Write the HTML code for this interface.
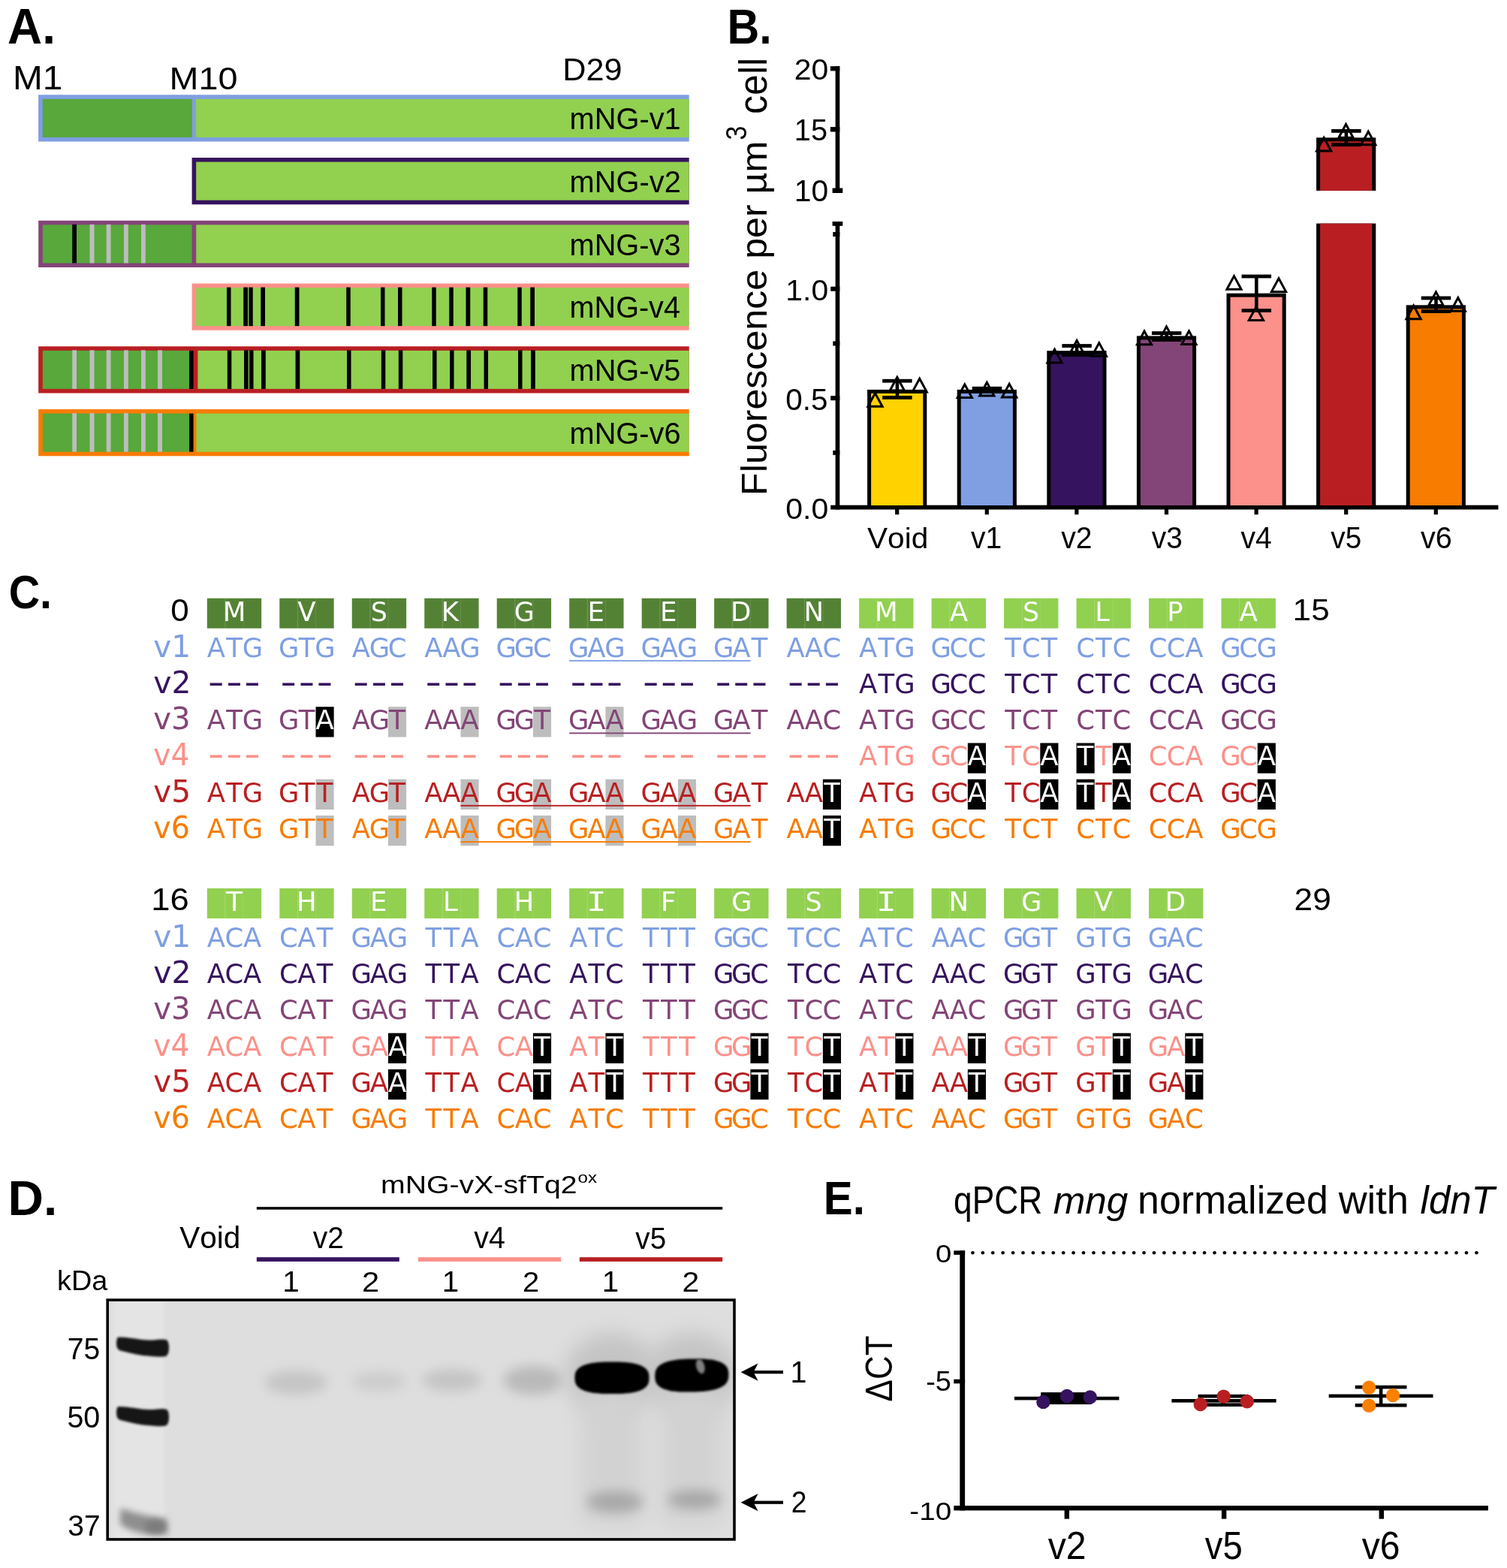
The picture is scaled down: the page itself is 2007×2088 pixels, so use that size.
<!DOCTYPE html>
<html><head><meta charset="utf-8"><title>Figure</title>
<style>
html,body{margin:0;padding:0;background:#fff;}
svg{display:block;}
text{font-kerning:none;}
</style></head>
<body>
<svg width="2007" height="2088" viewBox="0 0 2007 2088">
<rect width="2007" height="2088" fill="#fff"/>
<text x="10.11" y="57.90" font-family='"Liberation Sans", Arial, sans-serif' font-size="67.15" font-weight="bold" textLength="63.78" lengthAdjust="spacingAndGlyphs" fill="#000">A.</text>
<text x="16.98" y="119.20" font-family='"Liberation Sans", Arial, sans-serif' font-size="44.33" textLength="66.35" lengthAdjust="spacingAndGlyphs" fill="#000">M1</text>
<text x="225.46" y="118.78" font-family='"Liberation Sans", Arial, sans-serif' font-size="43.08" textLength="90.96" lengthAdjust="spacingAndGlyphs" fill="#000">M10</text>
<text x="749.20" y="106.58" font-family='"Liberation Sans", Arial, sans-serif' font-size="43.43" textLength="79.35" lengthAdjust="spacingAndGlyphs" fill="#000">D29</text>
<rect x="51.10" y="126.25" width="866.60" height="62.25" fill="#7F9FE2"/>
<rect x="56.70" y="131.85" width="199.30" height="51.05" fill="#58A83C"/>
<rect x="261.00" y="131.85" width="656.70" height="51.05" fill="#92D050"/>
<text x="758.56" y="172.16" font-family='"Liberation Sans", Arial, sans-serif' font-size="39.97" textLength="148.19" lengthAdjust="spacingAndGlyphs" fill="#000">mNG-v1</text>
<rect x="255.60" y="210.00" width="662.10" height="62.25" fill="#36135F"/>
<rect x="261.20" y="215.60" width="656.50" height="51.05" fill="#92D050"/>
<text x="758.56" y="255.91" font-family='"Liberation Sans", Arial, sans-serif' font-size="39.97" textLength="148.25" lengthAdjust="spacingAndGlyphs" fill="#000">mNG-v2</text>
<rect x="51.20" y="293.75" width="866.50" height="62.25" fill="#834577"/>
<rect x="56.80" y="299.35" width="198.70" height="51.05" fill="#58A83C"/>
<rect x="261.25" y="299.35" width="656.45" height="51.05" fill="#92D050"/>
<rect x="119.50" y="298.85" width="6.00" height="51.55" fill="#BDBDBD"/>
<rect x="141.75" y="298.85" width="5.75" height="51.55" fill="#BDBDBD"/>
<rect x="165.00" y="298.85" width="5.75" height="51.55" fill="#BDBDBD"/>
<rect x="188.00" y="298.85" width="5.75" height="51.55" fill="#BDBDBD"/>
<rect x="96.25" y="298.85" width="5.75" height="51.55" fill="#000"/>
<text x="758.56" y="339.66" font-family='"Liberation Sans", Arial, sans-serif' font-size="39.97" textLength="147.99" lengthAdjust="spacingAndGlyphs" fill="#000">mNG-v3</text>
<rect x="255.60" y="377.50" width="662.10" height="62.25" fill="#FB918A"/>
<rect x="261.20" y="383.10" width="656.50" height="51.05" fill="#92D050"/>
<rect x="302.00" y="382.60" width="5.50" height="51.55" fill="#000"/>
<rect x="324.25" y="382.60" width="5.75" height="51.55" fill="#000"/>
<rect x="331.25" y="382.60" width="5.50" height="51.55" fill="#000"/>
<rect x="347.25" y="382.60" width="5.75" height="51.55" fill="#000"/>
<rect x="392.75" y="382.60" width="5.75" height="51.55" fill="#000"/>
<rect x="461.25" y="382.60" width="5.50" height="51.55" fill="#000"/>
<rect x="507.00" y="382.60" width="5.50" height="51.55" fill="#000"/>
<rect x="530.00" y="382.60" width="5.50" height="51.55" fill="#000"/>
<rect x="575.25" y="382.60" width="5.50" height="51.55" fill="#000"/>
<rect x="598.25" y="382.60" width="5.50" height="51.55" fill="#000"/>
<rect x="620.50" y="382.60" width="5.75" height="51.55" fill="#000"/>
<rect x="643.75" y="382.60" width="5.50" height="51.55" fill="#000"/>
<rect x="689.25" y="382.60" width="5.50" height="51.55" fill="#000"/>
<rect x="706.25" y="382.60" width="5.75" height="51.55" fill="#000"/>
<text x="758.57" y="423.41" font-family='"Liberation Sans", Arial, sans-serif' font-size="39.97" textLength="147.39" lengthAdjust="spacingAndGlyphs" fill="#000">mNG-v4</text>
<rect x="51.20" y="461.25" width="866.50" height="62.25" fill="#B91F22"/>
<rect x="56.80" y="466.85" width="195.30" height="51.05" fill="#58A83C"/>
<rect x="252.10" y="466.85" width="5.50" height="51.05" fill="#000"/>
<rect x="263.40" y="466.85" width="654.30" height="51.05" fill="#92D050"/>
<rect x="96.25" y="466.35" width="5.75" height="51.55" fill="#BDBDBD"/>
<rect x="119.50" y="466.35" width="6.00" height="51.55" fill="#BDBDBD"/>
<rect x="141.75" y="466.35" width="5.75" height="51.55" fill="#BDBDBD"/>
<rect x="165.00" y="466.35" width="5.75" height="51.55" fill="#BDBDBD"/>
<rect x="188.00" y="466.35" width="5.75" height="51.55" fill="#BDBDBD"/>
<rect x="210.00" y="466.35" width="6.00" height="51.55" fill="#BDBDBD"/>
<rect x="302.80" y="466.35" width="5.50" height="51.55" fill="#000"/>
<rect x="325.05" y="466.35" width="5.75" height="51.55" fill="#000"/>
<rect x="332.05" y="466.35" width="5.50" height="51.55" fill="#000"/>
<rect x="348.05" y="466.35" width="5.75" height="51.55" fill="#000"/>
<rect x="393.55" y="466.35" width="5.75" height="51.55" fill="#000"/>
<rect x="462.05" y="466.35" width="5.50" height="51.55" fill="#000"/>
<rect x="507.80" y="466.35" width="5.50" height="51.55" fill="#000"/>
<rect x="530.80" y="466.35" width="5.50" height="51.55" fill="#000"/>
<rect x="576.05" y="466.35" width="5.50" height="51.55" fill="#000"/>
<rect x="599.05" y="466.35" width="5.50" height="51.55" fill="#000"/>
<rect x="621.30" y="466.35" width="5.75" height="51.55" fill="#000"/>
<rect x="644.55" y="466.35" width="5.50" height="51.55" fill="#000"/>
<rect x="690.05" y="466.35" width="5.50" height="51.55" fill="#000"/>
<rect x="707.05" y="466.35" width="5.75" height="51.55" fill="#000"/>
<text x="758.56" y="507.16" font-family='"Liberation Sans", Arial, sans-serif' font-size="39.97" textLength="147.91" lengthAdjust="spacingAndGlyphs" fill="#000">mNG-v5</text>
<rect x="51.20" y="545.00" width="866.50" height="62.25" fill="#F77C00"/>
<rect x="56.80" y="550.60" width="195.30" height="51.05" fill="#58A83C"/>
<rect x="252.10" y="550.60" width="5.50" height="51.05" fill="#000"/>
<rect x="261.40" y="550.60" width="656.30" height="51.05" fill="#92D050"/>
<rect x="96.25" y="550.10" width="5.75" height="51.55" fill="#BDBDBD"/>
<rect x="119.50" y="550.10" width="6.00" height="51.55" fill="#BDBDBD"/>
<rect x="141.75" y="550.10" width="5.75" height="51.55" fill="#BDBDBD"/>
<rect x="165.00" y="550.10" width="5.75" height="51.55" fill="#BDBDBD"/>
<rect x="188.00" y="550.10" width="5.75" height="51.55" fill="#BDBDBD"/>
<rect x="210.00" y="550.10" width="6.00" height="51.55" fill="#BDBDBD"/>
<text x="758.56" y="590.91" font-family='"Liberation Sans", Arial, sans-serif' font-size="39.97" textLength="147.99" lengthAdjust="spacingAndGlyphs" fill="#000">mNG-v6</text>
<text x="968.53" y="58.00" font-family='"Liberation Sans", Arial, sans-serif' font-size="64.32" font-weight="bold" textLength="59.30" lengthAdjust="spacingAndGlyphs" fill="#000">B.</text>
<rect x="1112.60" y="88.20" width="5.70" height="168.80" fill="#000"/>
<rect x="1105.90" y="88.20" width="12.40" height="6.20" fill="#000"/>
<rect x="1105.90" y="169.10" width="12.40" height="6.40" fill="#000"/>
<rect x="1108.60" y="250.50" width="13.70" height="6.50" fill="#000"/>
<rect x="1112.60" y="295.00" width="5.70" height="383.50" fill="#000"/>
<rect x="1108.60" y="295.00" width="13.70" height="5.80" fill="#000"/>
<rect x="1109.30" y="308.98" width="9.00" height="6.00" fill="#000"/>
<rect x="1106.20" y="381.70" width="12.10" height="6.00" fill="#000"/>
<rect x="1109.30" y="454.43" width="9.00" height="6.00" fill="#000"/>
<rect x="1106.20" y="527.15" width="12.10" height="6.00" fill="#000"/>
<rect x="1109.30" y="599.88" width="9.00" height="6.00" fill="#000"/>
<rect x="1106.20" y="672.70" width="889.20" height="5.80" fill="#000"/>
<rect x="1192.10" y="678.00" width="5.20" height="7.20" fill="#000"/>
<rect x="1311.70" y="678.00" width="5.20" height="7.20" fill="#000"/>
<rect x="1431.30" y="678.00" width="5.20" height="7.20" fill="#000"/>
<rect x="1550.90" y="678.00" width="5.20" height="7.20" fill="#000"/>
<rect x="1670.50" y="678.00" width="5.20" height="7.20" fill="#000"/>
<rect x="1790.10" y="678.00" width="5.20" height="7.20" fill="#000"/>
<rect x="1909.70" y="678.00" width="5.20" height="7.20" fill="#000"/>
<text x="1057.74" y="105.52" font-family='"Liberation Sans", Arial, sans-serif' font-size="39.41" textLength="45.45" lengthAdjust="spacingAndGlyphs" fill="#000">20</text>
<text x="1057.87" y="186.91" font-family='"Liberation Sans", Arial, sans-serif' font-size="39.84" textLength="44.31" lengthAdjust="spacingAndGlyphs" fill="#000">15</text>
<text x="1057.79" y="268.41" font-family='"Liberation Sans", Arial, sans-serif' font-size="40.11" textLength="45.40" lengthAdjust="spacingAndGlyphs" fill="#000">10</text>
<text x="1046.39" y="399.82" font-family='"Liberation Sans", Arial, sans-serif' font-size="39.12" textLength="56.81" lengthAdjust="spacingAndGlyphs" fill="#000">1.0</text>
<text x="1046.22" y="546.01" font-family='"Liberation Sans", Arial, sans-serif' font-size="40.40" textLength="56.18" lengthAdjust="spacingAndGlyphs" fill="#000">0.5</text>
<text x="1046.20" y="690.82" font-family='"Liberation Sans", Arial, sans-serif' font-size="39.12" textLength="57.00" lengthAdjust="spacingAndGlyphs" fill="#000">0.0</text>
<g transform="translate(1021.2,0) rotate(-90)">
<text x="-659.92" y="0.00" font-family='"Liberation Sans", Arial, sans-serif' font-size="48.72" textLength="472.22" lengthAdjust="spacingAndGlyphs" fill="#000">Fluorescence per µm</text>
<text x="-151.93" y="0.00" font-family='"Liberation Sans", Arial, sans-serif' font-size="51.89" textLength="75.07" lengthAdjust="spacingAndGlyphs" fill="#000">cell</text>
</g>
<g transform="translate(994.3,0) rotate(-90)">
<text x="-186.39" y="0.00" font-family='"Liberation Sans", Arial, sans-serif' font-size="39.10" textLength="18.77" lengthAdjust="spacingAndGlyphs" fill="#000">3</text>
</g>
<text x="1155.02" y="730.00" font-family='"Liberation Sans", Arial, sans-serif' font-size="38.37" textLength="81.19" lengthAdjust="spacingAndGlyphs" fill="#000">Void</text>
<text x="1293.07" y="730.00" font-family='"Liberation Sans", Arial, sans-serif' font-size="40.41" textLength="41.24" lengthAdjust="spacingAndGlyphs" fill="#000">v1</text>
<text x="1413.17" y="730.00" font-family='"Liberation Sans", Arial, sans-serif' font-size="39.81" textLength="41.30" lengthAdjust="spacingAndGlyphs" fill="#000">v2</text>
<text x="1533.77" y="730.00" font-family='"Liberation Sans", Arial, sans-serif' font-size="39.81" textLength="41.04" lengthAdjust="spacingAndGlyphs" fill="#000">v3</text>
<text x="1652.57" y="730.00" font-family='"Liberation Sans", Arial, sans-serif' font-size="40.41" textLength="41.28" lengthAdjust="spacingAndGlyphs" fill="#000">v4</text>
<text x="1772.27" y="730.00" font-family='"Liberation Sans", Arial, sans-serif' font-size="40.41" textLength="40.96" lengthAdjust="spacingAndGlyphs" fill="#000">v5</text>
<text x="1891.96" y="730.00" font-family='"Liberation Sans", Arial, sans-serif' font-size="39.81" textLength="41.88" lengthAdjust="spacingAndGlyphs" fill="#000">v6</text>
<rect x="1155.10" y="518.90" width="79.20" height="157.10" fill="#000"/>
<rect x="1160.10" y="523.90" width="69.20" height="149.10" fill="#FFD200"/>
<rect x="1274.70" y="518.90" width="79.20" height="157.10" fill="#000"/>
<rect x="1279.70" y="523.90" width="69.20" height="149.10" fill="#7F9FE2"/>
<rect x="1394.30" y="467.10" width="79.20" height="208.90" fill="#000"/>
<rect x="1399.30" y="472.10" width="69.20" height="200.90" fill="#36135F"/>
<rect x="1513.90" y="447.40" width="79.20" height="228.60" fill="#000"/>
<rect x="1518.90" y="452.40" width="69.20" height="220.60" fill="#834577"/>
<rect x="1633.50" y="390.60" width="79.20" height="285.40" fill="#000"/>
<rect x="1638.50" y="395.60" width="69.20" height="277.40" fill="#FB918A"/>
<rect x="1753.10" y="183.30" width="79.20" height="70.60" fill="#000"/>
<rect x="1758.10" y="188.30" width="69.20" height="65.60" fill="#B91F22"/>
<rect x="1753.10" y="297.60" width="79.20" height="378.40" fill="#000"/>
<rect x="1758.10" y="297.60" width="69.20" height="375.40" fill="#B91F22"/>
<rect x="1872.70" y="406.30" width="79.20" height="269.70" fill="#000"/>
<rect x="1877.70" y="411.30" width="69.20" height="261.70" fill="#F77C00"/>
<rect x="1175.15" y="504.80" width="39.50" height="4.80" fill="#000"/>
<rect x="1175.15" y="527.00" width="39.50" height="4.80" fill="#000"/>
<rect x="1192.60" y="507.20" width="4.60" height="22.20" fill="#000"/>
<rect x="1294.75" y="514.80" width="39.50" height="4.80" fill="#000"/>
<rect x="1294.75" y="518.60" width="39.50" height="4.80" fill="#000"/>
<rect x="1312.20" y="517.20" width="4.60" height="3.80" fill="#000"/>
<rect x="1414.35" y="458.10" width="39.50" height="4.80" fill="#000"/>
<rect x="1414.35" y="470.10" width="39.50" height="4.80" fill="#000"/>
<rect x="1431.80" y="460.50" width="4.60" height="12.00" fill="#000"/>
<rect x="1533.95" y="441.20" width="39.50" height="4.80" fill="#000"/>
<rect x="1533.95" y="450.10" width="39.50" height="4.80" fill="#000"/>
<rect x="1551.40" y="443.60" width="4.60" height="8.90" fill="#000"/>
<rect x="1653.55" y="365.60" width="39.50" height="4.80" fill="#000"/>
<rect x="1653.55" y="411.10" width="39.50" height="4.80" fill="#000"/>
<rect x="1671.00" y="368.00" width="4.60" height="45.50" fill="#000"/>
<rect x="1773.15" y="172.00" width="39.50" height="4.80" fill="#000"/>
<rect x="1773.15" y="190.30" width="39.50" height="4.80" fill="#000"/>
<rect x="1790.60" y="174.40" width="4.60" height="18.30" fill="#000"/>
<rect x="1892.75" y="394.50" width="39.50" height="4.80" fill="#000"/>
<rect x="1892.75" y="412.20" width="39.50" height="4.80" fill="#000"/>
<rect x="1910.20" y="396.90" width="4.60" height="17.70" fill="#000"/>
<path d="M1165.50,523.60 L1175.10,541.30 L1155.90,541.30 Z" fill="none" stroke="#000" stroke-width="3" stroke-linejoin="miter"/>
<path d="M1194.80,502.30 L1204.40,520.00 L1185.20,520.00 Z" fill="none" stroke="#000" stroke-width="3" stroke-linejoin="miter"/>
<path d="M1224.70,504.20 L1234.30,521.90 L1215.10,521.90 Z" fill="none" stroke="#000" stroke-width="3" stroke-linejoin="miter"/>
<path d="M1284.80,511.90 L1294.40,529.60 L1275.20,529.60 Z" fill="none" stroke="#000" stroke-width="3" stroke-linejoin="miter"/>
<path d="M1314.30,509.30 L1323.90,527.00 L1304.70,527.00 Z" fill="none" stroke="#000" stroke-width="3" stroke-linejoin="miter"/>
<path d="M1344.20,511.20 L1353.80,528.90 L1334.60,528.90 Z" fill="none" stroke="#000" stroke-width="3" stroke-linejoin="miter"/>
<path d="M1404.50,465.20 L1414.10,482.90 L1394.90,482.90 Z" fill="none" stroke="#000" stroke-width="3" stroke-linejoin="miter"/>
<path d="M1434.10,453.50 L1443.70,471.20 L1424.50,471.20 Z" fill="none" stroke="#000" stroke-width="3" stroke-linejoin="miter"/>
<path d="M1463.80,456.60 L1473.40,474.30 L1454.20,474.30 Z" fill="none" stroke="#000" stroke-width="3" stroke-linejoin="miter"/>
<path d="M1524.00,441.00 L1533.60,458.70 L1514.40,458.70 Z" fill="none" stroke="#000" stroke-width="3" stroke-linejoin="miter"/>
<path d="M1553.50,434.90 L1563.10,452.60 L1543.90,452.60 Z" fill="none" stroke="#000" stroke-width="3" stroke-linejoin="miter"/>
<path d="M1583.40,440.80 L1593.00,458.50 L1573.80,458.50 Z" fill="none" stroke="#000" stroke-width="3" stroke-linejoin="miter"/>
<path d="M1643.50,367.60 L1653.10,385.30 L1633.90,385.30 Z" fill="none" stroke="#000" stroke-width="3" stroke-linejoin="miter"/>
<path d="M1672.90,408.70 L1682.50,426.40 L1663.30,426.40 Z" fill="none" stroke="#000" stroke-width="3" stroke-linejoin="miter"/>
<path d="M1703.00,370.70 L1712.60,388.40 L1693.40,388.40 Z" fill="none" stroke="#000" stroke-width="3" stroke-linejoin="miter"/>
<path d="M1763.10,183.30 L1772.70,201.00 L1753.50,201.00 Z" fill="none" stroke="#000" stroke-width="3" stroke-linejoin="miter"/>
<path d="M1792.50,165.50 L1802.10,183.20 L1782.90,183.20 Z" fill="none" stroke="#000" stroke-width="3" stroke-linejoin="miter"/>
<path d="M1822.30,175.10 L1831.90,192.80 L1812.70,192.80 Z" fill="none" stroke="#000" stroke-width="3" stroke-linejoin="miter"/>
<path d="M1882.60,407.00 L1892.20,424.70 L1873.00,424.70 Z" fill="none" stroke="#000" stroke-width="3" stroke-linejoin="miter"/>
<path d="M1912.40,388.90 L1922.00,406.60 L1902.80,406.60 Z" fill="none" stroke="#000" stroke-width="3" stroke-linejoin="miter"/>
<path d="M1941.80,396.50 L1951.40,414.20 L1932.20,414.20 Z" fill="none" stroke="#000" stroke-width="3" stroke-linejoin="miter"/>
<text x="11.65" y="810.38" font-family='"Liberation Sans", Arial, sans-serif' font-size="63.56" font-weight="bold" textLength="57.29" lengthAdjust="spacingAndGlyphs" fill="#000">C.</text>
<text x="227.18" y="826.58" font-family='"Liberation Sans", Arial, sans-serif' font-size="42.94" textLength="24.43" lengthAdjust="spacingAndGlyphs" fill="#000">0</text>
<text x="1721.64" y="825.80" font-family='"Liberation Sans", Arial, sans-serif' font-size="41.13" textLength="49.01" lengthAdjust="spacingAndGlyphs" fill="#000">15</text>
<rect x="275.80" y="796.70" width="72.36" height="40.00" fill="#548235"/>
<rect x="299.42" y="796.70" width="1" height="40.00" fill="#fff" fill-opacity="0.2"/>
<rect x="323.54" y="796.70" width="1" height="40.00" fill="#fff" fill-opacity="0.1"/>
<text x="296.64" y="826.60" font-family='"DejaVu Sans", Verdana, sans-serif' font-size="35.53" fill="#fff">M</text>
<rect x="372.28" y="796.70" width="72.36" height="40.00" fill="#548235"/>
<rect x="395.90" y="796.70" width="1" height="40.00" fill="#fff" fill-opacity="0.2"/>
<rect x="420.02" y="796.70" width="1" height="40.00" fill="#fff" fill-opacity="0.1"/>
<text x="396.32" y="826.60" font-family='"DejaVu Sans", Verdana, sans-serif' font-size="35.53" fill="#fff">V</text>
<rect x="468.76" y="796.70" width="72.36" height="40.00" fill="#548235"/>
<rect x="492.38" y="796.70" width="1" height="40.00" fill="#fff" fill-opacity="0.2"/>
<rect x="516.50" y="796.70" width="1" height="40.00" fill="#fff" fill-opacity="0.1"/>
<text x="493.69" y="826.60" font-family='"DejaVu Sans", Verdana, sans-serif' font-size="34.90" fill="#fff">S</text>
<rect x="565.24" y="796.70" width="72.36" height="40.00" fill="#548235"/>
<rect x="588.86" y="796.70" width="1" height="40.00" fill="#fff" fill-opacity="0.2"/>
<rect x="612.98" y="796.70" width="1" height="40.00" fill="#fff" fill-opacity="0.1"/>
<text x="587.65" y="826.60" font-family='"DejaVu Sans", Verdana, sans-serif' font-size="35.53" fill="#fff">K</text>
<rect x="661.72" y="796.70" width="72.36" height="40.00" fill="#548235"/>
<rect x="685.34" y="796.70" width="1" height="40.00" fill="#fff" fill-opacity="0.2"/>
<rect x="709.46" y="796.70" width="1" height="40.00" fill="#fff" fill-opacity="0.1"/>
<text x="684.83" y="826.60" font-family='"DejaVu Sans", Verdana, sans-serif' font-size="34.90" fill="#fff">G</text>
<rect x="758.20" y="796.70" width="72.36" height="40.00" fill="#548235"/>
<rect x="781.82" y="796.70" width="1" height="40.00" fill="#fff" fill-opacity="0.2"/>
<rect x="805.94" y="796.70" width="1" height="40.00" fill="#fff" fill-opacity="0.1"/>
<text x="782.55" y="826.60" font-family='"DejaVu Sans", Verdana, sans-serif' font-size="35.53" fill="#fff">E</text>
<rect x="854.68" y="796.70" width="72.36" height="40.00" fill="#548235"/>
<rect x="878.30" y="796.70" width="1" height="40.00" fill="#fff" fill-opacity="0.2"/>
<rect x="902.42" y="796.70" width="1" height="40.00" fill="#fff" fill-opacity="0.1"/>
<text x="879.03" y="826.60" font-family='"DejaVu Sans", Verdana, sans-serif' font-size="35.53" fill="#fff">E</text>
<rect x="951.16" y="796.70" width="72.36" height="40.00" fill="#548235"/>
<rect x="974.78" y="796.70" width="1" height="40.00" fill="#fff" fill-opacity="0.2"/>
<rect x="998.90" y="796.70" width="1" height="40.00" fill="#fff" fill-opacity="0.1"/>
<text x="972.97" y="826.60" font-family='"DejaVu Sans", Verdana, sans-serif' font-size="35.53" fill="#fff">D</text>
<rect x="1047.64" y="796.70" width="72.36" height="40.00" fill="#548235"/>
<rect x="1071.26" y="796.70" width="1" height="40.00" fill="#fff" fill-opacity="0.2"/>
<rect x="1095.38" y="796.70" width="1" height="40.00" fill="#fff" fill-opacity="0.1"/>
<text x="1070.53" y="826.60" font-family='"DejaVu Sans", Verdana, sans-serif' font-size="35.53" fill="#fff">N</text>
<rect x="1144.12" y="796.70" width="72.36" height="40.00" fill="#92D050"/>
<rect x="1167.74" y="796.70" width="1" height="40.00" fill="#fff" fill-opacity="0.2"/>
<rect x="1191.86" y="796.70" width="1" height="40.00" fill="#fff" fill-opacity="0.1"/>
<text x="1164.96" y="826.60" font-family='"DejaVu Sans", Verdana, sans-serif' font-size="35.53" fill="#fff">M</text>
<rect x="1240.60" y="796.70" width="72.36" height="40.00" fill="#92D050"/>
<rect x="1264.22" y="796.70" width="1" height="40.00" fill="#fff" fill-opacity="0.2"/>
<rect x="1288.34" y="796.70" width="1" height="40.00" fill="#fff" fill-opacity="0.1"/>
<text x="1264.64" y="826.60" font-family='"DejaVu Sans", Verdana, sans-serif' font-size="35.53" fill="#fff">A</text>
<rect x="1337.08" y="796.70" width="72.36" height="40.00" fill="#92D050"/>
<rect x="1360.70" y="796.70" width="1" height="40.00" fill="#fff" fill-opacity="0.2"/>
<rect x="1384.82" y="796.70" width="1" height="40.00" fill="#fff" fill-opacity="0.1"/>
<text x="1362.01" y="826.60" font-family='"DejaVu Sans", Verdana, sans-serif' font-size="34.90" fill="#fff">S</text>
<rect x="1433.56" y="796.70" width="72.36" height="40.00" fill="#92D050"/>
<rect x="1457.18" y="796.70" width="1" height="40.00" fill="#fff" fill-opacity="0.2"/>
<rect x="1481.30" y="796.70" width="1" height="40.00" fill="#fff" fill-opacity="0.1"/>
<text x="1458.20" y="826.60" font-family='"DejaVu Sans", Verdana, sans-serif' font-size="35.53" fill="#fff">L</text>
<rect x="1530.04" y="796.70" width="72.36" height="40.00" fill="#92D050"/>
<rect x="1553.66" y="796.70" width="1" height="40.00" fill="#fff" fill-opacity="0.2"/>
<rect x="1577.78" y="796.70" width="1" height="40.00" fill="#fff" fill-opacity="0.1"/>
<text x="1554.37" y="826.60" font-family='"DejaVu Sans", Verdana, sans-serif' font-size="35.53" fill="#fff">P</text>
<rect x="1626.52" y="796.70" width="72.36" height="40.00" fill="#92D050"/>
<rect x="1650.14" y="796.70" width="1" height="40.00" fill="#fff" fill-opacity="0.2"/>
<rect x="1674.26" y="796.70" width="1" height="40.00" fill="#fff" fill-opacity="0.1"/>
<text x="1650.56" y="826.60" font-family='"DejaVu Sans", Verdana, sans-serif' font-size="35.53" fill="#fff">A</text>
<text x="204.19" y="874.50" font-family='"DejaVu Sans", Verdana, sans-serif' font-size="40.88" textLength="49.97" lengthAdjust="spacingAndGlyphs" fill="#7F9FE2">v1</text>
<rect x="758.20" y="878.90" width="241.40" height="1.90" fill="#7F9FE2"/>
<text x="275.76" y="874.50" font-family='"DejaVu Sans", Verdana, sans-serif' font-size="35.40" fill="#7F9FE2">A</text>
<text x="301.17" y="874.50" font-family='"DejaVu Sans", Verdana, sans-serif' font-size="35.40" fill="#7F9FE2">T</text>
<text x="322.84" y="874.50" font-family='"DejaVu Sans", Verdana, sans-serif' font-size="35.40" fill="#7F9FE2">G</text>
<text x="371.08" y="874.50" font-family='"DejaVu Sans", Verdana, sans-serif' font-size="35.40" fill="#7F9FE2">G</text>
<text x="397.65" y="874.50" font-family='"DejaVu Sans", Verdana, sans-serif' font-size="35.40" fill="#7F9FE2">T</text>
<text x="419.32" y="874.50" font-family='"DejaVu Sans", Verdana, sans-serif' font-size="35.40" fill="#7F9FE2">G</text>
<text x="468.72" y="874.50" font-family='"DejaVu Sans", Verdana, sans-serif' font-size="35.40" fill="#7F9FE2">A</text>
<text x="491.68" y="874.50" font-family='"DejaVu Sans", Verdana, sans-serif' font-size="35.40" fill="#7F9FE2">G</text>
<text x="516.67" y="874.50" font-family='"DejaVu Sans", Verdana, sans-serif' font-size="35.40" fill="#7F9FE2">C</text>
<text x="565.20" y="874.50" font-family='"DejaVu Sans", Verdana, sans-serif' font-size="35.40" fill="#7F9FE2">A</text>
<text x="589.32" y="874.50" font-family='"DejaVu Sans", Verdana, sans-serif' font-size="35.40" fill="#7F9FE2">A</text>
<text x="612.28" y="874.50" font-family='"DejaVu Sans", Verdana, sans-serif' font-size="35.40" fill="#7F9FE2">G</text>
<text x="660.52" y="874.50" font-family='"DejaVu Sans", Verdana, sans-serif' font-size="35.40" fill="#7F9FE2">G</text>
<text x="684.64" y="874.50" font-family='"DejaVu Sans", Verdana, sans-serif' font-size="35.40" fill="#7F9FE2">G</text>
<text x="709.63" y="874.50" font-family='"DejaVu Sans", Verdana, sans-serif' font-size="35.40" fill="#7F9FE2">C</text>
<text x="757.00" y="874.50" font-family='"DejaVu Sans", Verdana, sans-serif' font-size="35.40" fill="#7F9FE2">G</text>
<text x="782.28" y="874.50" font-family='"DejaVu Sans", Verdana, sans-serif' font-size="35.40" fill="#7F9FE2">A</text>
<text x="805.24" y="874.50" font-family='"DejaVu Sans", Verdana, sans-serif' font-size="35.40" fill="#7F9FE2">G</text>
<text x="853.48" y="874.50" font-family='"DejaVu Sans", Verdana, sans-serif' font-size="35.40" fill="#7F9FE2">G</text>
<text x="878.76" y="874.50" font-family='"DejaVu Sans", Verdana, sans-serif' font-size="35.40" fill="#7F9FE2">A</text>
<text x="901.72" y="874.50" font-family='"DejaVu Sans", Verdana, sans-serif' font-size="35.40" fill="#7F9FE2">G</text>
<text x="949.96" y="874.50" font-family='"DejaVu Sans", Verdana, sans-serif' font-size="35.40" fill="#7F9FE2">G</text>
<text x="975.24" y="874.50" font-family='"DejaVu Sans", Verdana, sans-serif' font-size="35.40" fill="#7F9FE2">A</text>
<text x="1000.65" y="874.50" font-family='"DejaVu Sans", Verdana, sans-serif' font-size="35.40" fill="#7F9FE2">T</text>
<text x="1047.60" y="874.50" font-family='"DejaVu Sans", Verdana, sans-serif' font-size="35.40" fill="#7F9FE2">A</text>
<text x="1071.72" y="874.50" font-family='"DejaVu Sans", Verdana, sans-serif' font-size="35.40" fill="#7F9FE2">A</text>
<text x="1095.55" y="874.50" font-family='"DejaVu Sans", Verdana, sans-serif' font-size="35.40" fill="#7F9FE2">C</text>
<text x="1144.08" y="874.50" font-family='"DejaVu Sans", Verdana, sans-serif' font-size="35.40" fill="#7F9FE2">A</text>
<text x="1169.49" y="874.50" font-family='"DejaVu Sans", Verdana, sans-serif' font-size="35.40" fill="#7F9FE2">T</text>
<text x="1191.16" y="874.50" font-family='"DejaVu Sans", Verdana, sans-serif' font-size="35.40" fill="#7F9FE2">G</text>
<text x="1239.40" y="874.50" font-family='"DejaVu Sans", Verdana, sans-serif' font-size="35.40" fill="#7F9FE2">G</text>
<text x="1264.39" y="874.50" font-family='"DejaVu Sans", Verdana, sans-serif' font-size="35.40" fill="#7F9FE2">C</text>
<text x="1288.51" y="874.50" font-family='"DejaVu Sans", Verdana, sans-serif' font-size="35.40" fill="#7F9FE2">C</text>
<text x="1338.33" y="874.50" font-family='"DejaVu Sans", Verdana, sans-serif' font-size="35.40" fill="#7F9FE2">T</text>
<text x="1360.87" y="874.50" font-family='"DejaVu Sans", Verdana, sans-serif' font-size="35.40" fill="#7F9FE2">C</text>
<text x="1386.57" y="874.50" font-family='"DejaVu Sans", Verdana, sans-serif' font-size="35.40" fill="#7F9FE2">T</text>
<text x="1433.23" y="874.50" font-family='"DejaVu Sans", Verdana, sans-serif' font-size="35.40" fill="#7F9FE2">C</text>
<text x="1458.93" y="874.50" font-family='"DejaVu Sans", Verdana, sans-serif' font-size="35.40" fill="#7F9FE2">T</text>
<text x="1481.47" y="874.50" font-family='"DejaVu Sans", Verdana, sans-serif' font-size="35.40" fill="#7F9FE2">C</text>
<text x="1529.71" y="874.50" font-family='"DejaVu Sans", Verdana, sans-serif' font-size="35.40" fill="#7F9FE2">C</text>
<text x="1553.83" y="874.50" font-family='"DejaVu Sans", Verdana, sans-serif' font-size="35.40" fill="#7F9FE2">C</text>
<text x="1578.24" y="874.50" font-family='"DejaVu Sans", Verdana, sans-serif' font-size="35.40" fill="#7F9FE2">A</text>
<text x="1625.32" y="874.50" font-family='"DejaVu Sans", Verdana, sans-serif' font-size="35.40" fill="#7F9FE2">G</text>
<text x="1650.31" y="874.50" font-family='"DejaVu Sans", Verdana, sans-serif' font-size="35.40" fill="#7F9FE2">C</text>
<text x="1673.56" y="874.50" font-family='"DejaVu Sans", Verdana, sans-serif' font-size="35.40" fill="#7F9FE2">G</text>
<text x="204.18" y="922.75" font-family='"DejaVu Sans", Verdana, sans-serif' font-size="40.15" textLength="50.32" lengthAdjust="spacingAndGlyphs" fill="#36135F">v2</text>
<text x="276.89" y="922.96" font-family='"DejaVu Sans", Verdana, sans-serif' font-size="44.96" textLength="21.94" lengthAdjust="spacingAndGlyphs" fill="#36135F">-</text>
<text x="301.01" y="922.96" font-family='"DejaVu Sans", Verdana, sans-serif' font-size="44.96" textLength="21.94" lengthAdjust="spacingAndGlyphs" fill="#36135F">-</text>
<text x="325.13" y="922.96" font-family='"DejaVu Sans", Verdana, sans-serif' font-size="44.96" textLength="21.94" lengthAdjust="spacingAndGlyphs" fill="#36135F">-</text>
<text x="373.37" y="922.96" font-family='"DejaVu Sans", Verdana, sans-serif' font-size="44.96" textLength="21.94" lengthAdjust="spacingAndGlyphs" fill="#36135F">-</text>
<text x="397.49" y="922.96" font-family='"DejaVu Sans", Verdana, sans-serif' font-size="44.96" textLength="21.94" lengthAdjust="spacingAndGlyphs" fill="#36135F">-</text>
<text x="421.61" y="922.96" font-family='"DejaVu Sans", Verdana, sans-serif' font-size="44.96" textLength="21.94" lengthAdjust="spacingAndGlyphs" fill="#36135F">-</text>
<text x="469.85" y="922.96" font-family='"DejaVu Sans", Verdana, sans-serif' font-size="44.96" textLength="21.94" lengthAdjust="spacingAndGlyphs" fill="#36135F">-</text>
<text x="493.97" y="922.96" font-family='"DejaVu Sans", Verdana, sans-serif' font-size="44.96" textLength="21.94" lengthAdjust="spacingAndGlyphs" fill="#36135F">-</text>
<text x="518.09" y="922.96" font-family='"DejaVu Sans", Verdana, sans-serif' font-size="44.96" textLength="21.94" lengthAdjust="spacingAndGlyphs" fill="#36135F">-</text>
<text x="566.33" y="922.96" font-family='"DejaVu Sans", Verdana, sans-serif' font-size="44.96" textLength="21.94" lengthAdjust="spacingAndGlyphs" fill="#36135F">-</text>
<text x="590.45" y="922.96" font-family='"DejaVu Sans", Verdana, sans-serif' font-size="44.96" textLength="21.94" lengthAdjust="spacingAndGlyphs" fill="#36135F">-</text>
<text x="614.57" y="922.96" font-family='"DejaVu Sans", Verdana, sans-serif' font-size="44.96" textLength="21.94" lengthAdjust="spacingAndGlyphs" fill="#36135F">-</text>
<text x="662.81" y="922.96" font-family='"DejaVu Sans", Verdana, sans-serif' font-size="44.96" textLength="21.94" lengthAdjust="spacingAndGlyphs" fill="#36135F">-</text>
<text x="686.93" y="922.96" font-family='"DejaVu Sans", Verdana, sans-serif' font-size="44.96" textLength="21.94" lengthAdjust="spacingAndGlyphs" fill="#36135F">-</text>
<text x="711.05" y="922.96" font-family='"DejaVu Sans", Verdana, sans-serif' font-size="44.96" textLength="21.94" lengthAdjust="spacingAndGlyphs" fill="#36135F">-</text>
<text x="759.29" y="922.96" font-family='"DejaVu Sans", Verdana, sans-serif' font-size="44.96" textLength="21.94" lengthAdjust="spacingAndGlyphs" fill="#36135F">-</text>
<text x="783.41" y="922.96" font-family='"DejaVu Sans", Verdana, sans-serif' font-size="44.96" textLength="21.94" lengthAdjust="spacingAndGlyphs" fill="#36135F">-</text>
<text x="807.53" y="922.96" font-family='"DejaVu Sans", Verdana, sans-serif' font-size="44.96" textLength="21.94" lengthAdjust="spacingAndGlyphs" fill="#36135F">-</text>
<text x="855.77" y="922.96" font-family='"DejaVu Sans", Verdana, sans-serif' font-size="44.96" textLength="21.94" lengthAdjust="spacingAndGlyphs" fill="#36135F">-</text>
<text x="879.89" y="922.96" font-family='"DejaVu Sans", Verdana, sans-serif' font-size="44.96" textLength="21.94" lengthAdjust="spacingAndGlyphs" fill="#36135F">-</text>
<text x="904.01" y="922.96" font-family='"DejaVu Sans", Verdana, sans-serif' font-size="44.96" textLength="21.94" lengthAdjust="spacingAndGlyphs" fill="#36135F">-</text>
<text x="952.25" y="922.96" font-family='"DejaVu Sans", Verdana, sans-serif' font-size="44.96" textLength="21.94" lengthAdjust="spacingAndGlyphs" fill="#36135F">-</text>
<text x="976.37" y="922.96" font-family='"DejaVu Sans", Verdana, sans-serif' font-size="44.96" textLength="21.94" lengthAdjust="spacingAndGlyphs" fill="#36135F">-</text>
<text x="1000.49" y="922.96" font-family='"DejaVu Sans", Verdana, sans-serif' font-size="44.96" textLength="21.94" lengthAdjust="spacingAndGlyphs" fill="#36135F">-</text>
<text x="1048.73" y="922.96" font-family='"DejaVu Sans", Verdana, sans-serif' font-size="44.96" textLength="21.94" lengthAdjust="spacingAndGlyphs" fill="#36135F">-</text>
<text x="1072.85" y="922.96" font-family='"DejaVu Sans", Verdana, sans-serif' font-size="44.96" textLength="21.94" lengthAdjust="spacingAndGlyphs" fill="#36135F">-</text>
<text x="1096.97" y="922.96" font-family='"DejaVu Sans", Verdana, sans-serif' font-size="44.96" textLength="21.94" lengthAdjust="spacingAndGlyphs" fill="#36135F">-</text>
<text x="1144.08" y="922.75" font-family='"DejaVu Sans", Verdana, sans-serif' font-size="35.40" fill="#36135F">A</text>
<text x="1169.49" y="922.75" font-family='"DejaVu Sans", Verdana, sans-serif' font-size="35.40" fill="#36135F">T</text>
<text x="1191.16" y="922.75" font-family='"DejaVu Sans", Verdana, sans-serif' font-size="35.40" fill="#36135F">G</text>
<text x="1239.40" y="922.75" font-family='"DejaVu Sans", Verdana, sans-serif' font-size="35.40" fill="#36135F">G</text>
<text x="1264.39" y="922.75" font-family='"DejaVu Sans", Verdana, sans-serif' font-size="35.40" fill="#36135F">C</text>
<text x="1288.51" y="922.75" font-family='"DejaVu Sans", Verdana, sans-serif' font-size="35.40" fill="#36135F">C</text>
<text x="1338.33" y="922.75" font-family='"DejaVu Sans", Verdana, sans-serif' font-size="35.40" fill="#36135F">T</text>
<text x="1360.87" y="922.75" font-family='"DejaVu Sans", Verdana, sans-serif' font-size="35.40" fill="#36135F">C</text>
<text x="1386.57" y="922.75" font-family='"DejaVu Sans", Verdana, sans-serif' font-size="35.40" fill="#36135F">T</text>
<text x="1433.23" y="922.75" font-family='"DejaVu Sans", Verdana, sans-serif' font-size="35.40" fill="#36135F">C</text>
<text x="1458.93" y="922.75" font-family='"DejaVu Sans", Verdana, sans-serif' font-size="35.40" fill="#36135F">T</text>
<text x="1481.47" y="922.75" font-family='"DejaVu Sans", Verdana, sans-serif' font-size="35.40" fill="#36135F">C</text>
<text x="1529.71" y="922.75" font-family='"DejaVu Sans", Verdana, sans-serif' font-size="35.40" fill="#36135F">C</text>
<text x="1553.83" y="922.75" font-family='"DejaVu Sans", Verdana, sans-serif' font-size="35.40" fill="#36135F">C</text>
<text x="1578.24" y="922.75" font-family='"DejaVu Sans", Verdana, sans-serif' font-size="35.40" fill="#36135F">A</text>
<text x="1625.32" y="922.75" font-family='"DejaVu Sans", Verdana, sans-serif' font-size="35.40" fill="#36135F">G</text>
<text x="1650.31" y="922.75" font-family='"DejaVu Sans", Verdana, sans-serif' font-size="35.40" fill="#36135F">C</text>
<text x="1673.56" y="922.75" font-family='"DejaVu Sans", Verdana, sans-serif' font-size="35.40" fill="#36135F">G</text>
<text x="204.20" y="971.00" font-family='"DejaVu Sans", Verdana, sans-serif' font-size="40.15" textLength="49.42" lengthAdjust="spacingAndGlyphs" fill="#834577">v3</text>
<rect x="420.52" y="941.20" width="24.12" height="40.30" fill="#000"/>
<rect x="517.00" y="941.20" width="24.12" height="40.30" fill="#BDBDBD"/>
<rect x="613.48" y="941.20" width="24.12" height="40.30" fill="#BDBDBD"/>
<rect x="709.96" y="941.20" width="24.12" height="40.30" fill="#BDBDBD"/>
<rect x="806.44" y="941.20" width="24.12" height="40.30" fill="#BDBDBD"/>
<rect x="758.20" y="975.40" width="241.40" height="1.90" fill="#834577"/>
<text x="275.76" y="971.00" font-family='"DejaVu Sans", Verdana, sans-serif' font-size="35.40" fill="#834577">A</text>
<text x="301.17" y="971.00" font-family='"DejaVu Sans", Verdana, sans-serif' font-size="35.40" fill="#834577">T</text>
<text x="322.84" y="971.00" font-family='"DejaVu Sans", Verdana, sans-serif' font-size="35.40" fill="#834577">G</text>
<text x="371.08" y="971.00" font-family='"DejaVu Sans", Verdana, sans-serif' font-size="35.40" fill="#834577">G</text>
<text x="397.65" y="971.00" font-family='"DejaVu Sans", Verdana, sans-serif' font-size="35.40" fill="#834577">T</text>
<text x="420.48" y="971.00" font-family='"DejaVu Sans", Verdana, sans-serif' font-size="35.40" fill="#fff">A</text>
<text x="468.72" y="971.00" font-family='"DejaVu Sans", Verdana, sans-serif' font-size="35.40" fill="#834577">A</text>
<text x="491.68" y="971.00" font-family='"DejaVu Sans", Verdana, sans-serif' font-size="35.40" fill="#834577">G</text>
<text x="518.25" y="971.00" font-family='"DejaVu Sans", Verdana, sans-serif' font-size="35.40" fill="#834577">T</text>
<text x="565.20" y="971.00" font-family='"DejaVu Sans", Verdana, sans-serif' font-size="35.40" fill="#834577">A</text>
<text x="589.32" y="971.00" font-family='"DejaVu Sans", Verdana, sans-serif' font-size="35.40" fill="#834577">A</text>
<text x="613.44" y="971.00" font-family='"DejaVu Sans", Verdana, sans-serif' font-size="35.40" fill="#834577">A</text>
<text x="660.52" y="971.00" font-family='"DejaVu Sans", Verdana, sans-serif' font-size="35.40" fill="#834577">G</text>
<text x="684.64" y="971.00" font-family='"DejaVu Sans", Verdana, sans-serif' font-size="35.40" fill="#834577">G</text>
<text x="711.21" y="971.00" font-family='"DejaVu Sans", Verdana, sans-serif' font-size="35.40" fill="#834577">T</text>
<text x="757.00" y="971.00" font-family='"DejaVu Sans", Verdana, sans-serif' font-size="35.40" fill="#834577">G</text>
<text x="782.28" y="971.00" font-family='"DejaVu Sans", Verdana, sans-serif' font-size="35.40" fill="#834577">A</text>
<text x="806.40" y="971.00" font-family='"DejaVu Sans", Verdana, sans-serif' font-size="35.40" fill="#834577">A</text>
<text x="853.48" y="971.00" font-family='"DejaVu Sans", Verdana, sans-serif' font-size="35.40" fill="#834577">G</text>
<text x="878.76" y="971.00" font-family='"DejaVu Sans", Verdana, sans-serif' font-size="35.40" fill="#834577">A</text>
<text x="901.72" y="971.00" font-family='"DejaVu Sans", Verdana, sans-serif' font-size="35.40" fill="#834577">G</text>
<text x="949.96" y="971.00" font-family='"DejaVu Sans", Verdana, sans-serif' font-size="35.40" fill="#834577">G</text>
<text x="975.24" y="971.00" font-family='"DejaVu Sans", Verdana, sans-serif' font-size="35.40" fill="#834577">A</text>
<text x="1000.65" y="971.00" font-family='"DejaVu Sans", Verdana, sans-serif' font-size="35.40" fill="#834577">T</text>
<text x="1047.60" y="971.00" font-family='"DejaVu Sans", Verdana, sans-serif' font-size="35.40" fill="#834577">A</text>
<text x="1071.72" y="971.00" font-family='"DejaVu Sans", Verdana, sans-serif' font-size="35.40" fill="#834577">A</text>
<text x="1095.55" y="971.00" font-family='"DejaVu Sans", Verdana, sans-serif' font-size="35.40" fill="#834577">C</text>
<text x="1144.08" y="971.00" font-family='"DejaVu Sans", Verdana, sans-serif' font-size="35.40" fill="#834577">A</text>
<text x="1169.49" y="971.00" font-family='"DejaVu Sans", Verdana, sans-serif' font-size="35.40" fill="#834577">T</text>
<text x="1191.16" y="971.00" font-family='"DejaVu Sans", Verdana, sans-serif' font-size="35.40" fill="#834577">G</text>
<text x="1239.40" y="971.00" font-family='"DejaVu Sans", Verdana, sans-serif' font-size="35.40" fill="#834577">G</text>
<text x="1264.39" y="971.00" font-family='"DejaVu Sans", Verdana, sans-serif' font-size="35.40" fill="#834577">C</text>
<text x="1288.51" y="971.00" font-family='"DejaVu Sans", Verdana, sans-serif' font-size="35.40" fill="#834577">C</text>
<text x="1338.33" y="971.00" font-family='"DejaVu Sans", Verdana, sans-serif' font-size="35.40" fill="#834577">T</text>
<text x="1360.87" y="971.00" font-family='"DejaVu Sans", Verdana, sans-serif' font-size="35.40" fill="#834577">C</text>
<text x="1386.57" y="971.00" font-family='"DejaVu Sans", Verdana, sans-serif' font-size="35.40" fill="#834577">T</text>
<text x="1433.23" y="971.00" font-family='"DejaVu Sans", Verdana, sans-serif' font-size="35.40" fill="#834577">C</text>
<text x="1458.93" y="971.00" font-family='"DejaVu Sans", Verdana, sans-serif' font-size="35.40" fill="#834577">T</text>
<text x="1481.47" y="971.00" font-family='"DejaVu Sans", Verdana, sans-serif' font-size="35.40" fill="#834577">C</text>
<text x="1529.71" y="971.00" font-family='"DejaVu Sans", Verdana, sans-serif' font-size="35.40" fill="#834577">C</text>
<text x="1553.83" y="971.00" font-family='"DejaVu Sans", Verdana, sans-serif' font-size="35.40" fill="#834577">C</text>
<text x="1578.24" y="971.00" font-family='"DejaVu Sans", Verdana, sans-serif' font-size="35.40" fill="#834577">A</text>
<text x="1625.32" y="971.00" font-family='"DejaVu Sans", Verdana, sans-serif' font-size="35.40" fill="#834577">G</text>
<text x="1650.31" y="971.00" font-family='"DejaVu Sans", Verdana, sans-serif' font-size="35.40" fill="#834577">C</text>
<text x="1673.56" y="971.00" font-family='"DejaVu Sans", Verdana, sans-serif' font-size="35.40" fill="#834577">G</text>
<text x="204.23" y="1019.25" font-family='"DejaVu Sans", Verdana, sans-serif' font-size="40.88" textLength="48.39" lengthAdjust="spacingAndGlyphs" fill="#FB918A">v4</text>
<rect x="1288.84" y="989.45" width="24.12" height="40.30" fill="#000"/>
<rect x="1385.32" y="989.45" width="24.12" height="40.30" fill="#000"/>
<rect x="1433.56" y="989.45" width="24.12" height="40.30" fill="#000"/>
<rect x="1481.80" y="989.45" width="24.12" height="40.30" fill="#000"/>
<rect x="1674.76" y="989.45" width="24.12" height="40.30" fill="#000"/>
<text x="276.89" y="1019.46" font-family='"DejaVu Sans", Verdana, sans-serif' font-size="44.96" textLength="21.94" lengthAdjust="spacingAndGlyphs" fill="#FB918A">-</text>
<text x="301.01" y="1019.46" font-family='"DejaVu Sans", Verdana, sans-serif' font-size="44.96" textLength="21.94" lengthAdjust="spacingAndGlyphs" fill="#FB918A">-</text>
<text x="325.13" y="1019.46" font-family='"DejaVu Sans", Verdana, sans-serif' font-size="44.96" textLength="21.94" lengthAdjust="spacingAndGlyphs" fill="#FB918A">-</text>
<text x="373.37" y="1019.46" font-family='"DejaVu Sans", Verdana, sans-serif' font-size="44.96" textLength="21.94" lengthAdjust="spacingAndGlyphs" fill="#FB918A">-</text>
<text x="397.49" y="1019.46" font-family='"DejaVu Sans", Verdana, sans-serif' font-size="44.96" textLength="21.94" lengthAdjust="spacingAndGlyphs" fill="#FB918A">-</text>
<text x="421.61" y="1019.46" font-family='"DejaVu Sans", Verdana, sans-serif' font-size="44.96" textLength="21.94" lengthAdjust="spacingAndGlyphs" fill="#FB918A">-</text>
<text x="469.85" y="1019.46" font-family='"DejaVu Sans", Verdana, sans-serif' font-size="44.96" textLength="21.94" lengthAdjust="spacingAndGlyphs" fill="#FB918A">-</text>
<text x="493.97" y="1019.46" font-family='"DejaVu Sans", Verdana, sans-serif' font-size="44.96" textLength="21.94" lengthAdjust="spacingAndGlyphs" fill="#FB918A">-</text>
<text x="518.09" y="1019.46" font-family='"DejaVu Sans", Verdana, sans-serif' font-size="44.96" textLength="21.94" lengthAdjust="spacingAndGlyphs" fill="#FB918A">-</text>
<text x="566.33" y="1019.46" font-family='"DejaVu Sans", Verdana, sans-serif' font-size="44.96" textLength="21.94" lengthAdjust="spacingAndGlyphs" fill="#FB918A">-</text>
<text x="590.45" y="1019.46" font-family='"DejaVu Sans", Verdana, sans-serif' font-size="44.96" textLength="21.94" lengthAdjust="spacingAndGlyphs" fill="#FB918A">-</text>
<text x="614.57" y="1019.46" font-family='"DejaVu Sans", Verdana, sans-serif' font-size="44.96" textLength="21.94" lengthAdjust="spacingAndGlyphs" fill="#FB918A">-</text>
<text x="662.81" y="1019.46" font-family='"DejaVu Sans", Verdana, sans-serif' font-size="44.96" textLength="21.94" lengthAdjust="spacingAndGlyphs" fill="#FB918A">-</text>
<text x="686.93" y="1019.46" font-family='"DejaVu Sans", Verdana, sans-serif' font-size="44.96" textLength="21.94" lengthAdjust="spacingAndGlyphs" fill="#FB918A">-</text>
<text x="711.05" y="1019.46" font-family='"DejaVu Sans", Verdana, sans-serif' font-size="44.96" textLength="21.94" lengthAdjust="spacingAndGlyphs" fill="#FB918A">-</text>
<text x="759.29" y="1019.46" font-family='"DejaVu Sans", Verdana, sans-serif' font-size="44.96" textLength="21.94" lengthAdjust="spacingAndGlyphs" fill="#FB918A">-</text>
<text x="783.41" y="1019.46" font-family='"DejaVu Sans", Verdana, sans-serif' font-size="44.96" textLength="21.94" lengthAdjust="spacingAndGlyphs" fill="#FB918A">-</text>
<text x="807.53" y="1019.46" font-family='"DejaVu Sans", Verdana, sans-serif' font-size="44.96" textLength="21.94" lengthAdjust="spacingAndGlyphs" fill="#FB918A">-</text>
<text x="855.77" y="1019.46" font-family='"DejaVu Sans", Verdana, sans-serif' font-size="44.96" textLength="21.94" lengthAdjust="spacingAndGlyphs" fill="#FB918A">-</text>
<text x="879.89" y="1019.46" font-family='"DejaVu Sans", Verdana, sans-serif' font-size="44.96" textLength="21.94" lengthAdjust="spacingAndGlyphs" fill="#FB918A">-</text>
<text x="904.01" y="1019.46" font-family='"DejaVu Sans", Verdana, sans-serif' font-size="44.96" textLength="21.94" lengthAdjust="spacingAndGlyphs" fill="#FB918A">-</text>
<text x="952.25" y="1019.46" font-family='"DejaVu Sans", Verdana, sans-serif' font-size="44.96" textLength="21.94" lengthAdjust="spacingAndGlyphs" fill="#FB918A">-</text>
<text x="976.37" y="1019.46" font-family='"DejaVu Sans", Verdana, sans-serif' font-size="44.96" textLength="21.94" lengthAdjust="spacingAndGlyphs" fill="#FB918A">-</text>
<text x="1000.49" y="1019.46" font-family='"DejaVu Sans", Verdana, sans-serif' font-size="44.96" textLength="21.94" lengthAdjust="spacingAndGlyphs" fill="#FB918A">-</text>
<text x="1048.73" y="1019.46" font-family='"DejaVu Sans", Verdana, sans-serif' font-size="44.96" textLength="21.94" lengthAdjust="spacingAndGlyphs" fill="#FB918A">-</text>
<text x="1072.85" y="1019.46" font-family='"DejaVu Sans", Verdana, sans-serif' font-size="44.96" textLength="21.94" lengthAdjust="spacingAndGlyphs" fill="#FB918A">-</text>
<text x="1096.97" y="1019.46" font-family='"DejaVu Sans", Verdana, sans-serif' font-size="44.96" textLength="21.94" lengthAdjust="spacingAndGlyphs" fill="#FB918A">-</text>
<text x="1144.08" y="1019.25" font-family='"DejaVu Sans", Verdana, sans-serif' font-size="35.40" fill="#FB918A">A</text>
<text x="1169.49" y="1019.25" font-family='"DejaVu Sans", Verdana, sans-serif' font-size="35.40" fill="#FB918A">T</text>
<text x="1191.16" y="1019.25" font-family='"DejaVu Sans", Verdana, sans-serif' font-size="35.40" fill="#FB918A">G</text>
<text x="1239.40" y="1019.25" font-family='"DejaVu Sans", Verdana, sans-serif' font-size="35.40" fill="#FB918A">G</text>
<text x="1264.39" y="1019.25" font-family='"DejaVu Sans", Verdana, sans-serif' font-size="35.40" fill="#FB918A">C</text>
<text x="1288.80" y="1019.25" font-family='"DejaVu Sans", Verdana, sans-serif' font-size="35.40" fill="#fff">A</text>
<text x="1338.33" y="1019.25" font-family='"DejaVu Sans", Verdana, sans-serif' font-size="35.40" fill="#FB918A">T</text>
<text x="1360.87" y="1019.25" font-family='"DejaVu Sans", Verdana, sans-serif' font-size="35.40" fill="#FB918A">C</text>
<text x="1385.28" y="1019.25" font-family='"DejaVu Sans", Verdana, sans-serif' font-size="35.40" fill="#fff">A</text>
<text x="1434.81" y="1019.25" font-family='"DejaVu Sans", Verdana, sans-serif' font-size="35.40" fill="#fff">T</text>
<text x="1458.93" y="1019.25" font-family='"DejaVu Sans", Verdana, sans-serif' font-size="35.40" fill="#FB918A">T</text>
<text x="1481.76" y="1019.25" font-family='"DejaVu Sans", Verdana, sans-serif' font-size="35.40" fill="#fff">A</text>
<text x="1529.71" y="1019.25" font-family='"DejaVu Sans", Verdana, sans-serif' font-size="35.40" fill="#FB918A">C</text>
<text x="1553.83" y="1019.25" font-family='"DejaVu Sans", Verdana, sans-serif' font-size="35.40" fill="#FB918A">C</text>
<text x="1578.24" y="1019.25" font-family='"DejaVu Sans", Verdana, sans-serif' font-size="35.40" fill="#FB918A">A</text>
<text x="1625.32" y="1019.25" font-family='"DejaVu Sans", Verdana, sans-serif' font-size="35.40" fill="#FB918A">G</text>
<text x="1650.31" y="1019.25" font-family='"DejaVu Sans", Verdana, sans-serif' font-size="35.40" fill="#FB918A">C</text>
<text x="1674.72" y="1019.25" font-family='"DejaVu Sans", Verdana, sans-serif' font-size="35.40" fill="#fff">A</text>
<text x="204.19" y="1067.50" font-family='"DejaVu Sans", Verdana, sans-serif' font-size="40.88" textLength="49.75" lengthAdjust="spacingAndGlyphs" fill="#B91F22">v5</text>
<rect x="420.52" y="1037.70" width="24.12" height="40.30" fill="#BDBDBD"/>
<rect x="517.00" y="1037.70" width="24.12" height="40.30" fill="#BDBDBD"/>
<rect x="613.48" y="1037.70" width="24.12" height="40.30" fill="#BDBDBD"/>
<rect x="709.96" y="1037.70" width="24.12" height="40.30" fill="#BDBDBD"/>
<rect x="806.44" y="1037.70" width="24.12" height="40.30" fill="#BDBDBD"/>
<rect x="902.92" y="1037.70" width="24.12" height="40.30" fill="#BDBDBD"/>
<rect x="1095.88" y="1037.70" width="24.12" height="40.30" fill="#000"/>
<rect x="1288.84" y="1037.70" width="24.12" height="40.30" fill="#000"/>
<rect x="1385.32" y="1037.70" width="24.12" height="40.30" fill="#000"/>
<rect x="1433.56" y="1037.70" width="24.12" height="40.30" fill="#000"/>
<rect x="1481.80" y="1037.70" width="24.12" height="40.30" fill="#000"/>
<rect x="1674.76" y="1037.70" width="24.12" height="40.30" fill="#000"/>
<rect x="613.48" y="1071.90" width="386.12" height="1.90" fill="#B91F22"/>
<text x="275.76" y="1067.50" font-family='"DejaVu Sans", Verdana, sans-serif' font-size="35.40" fill="#B91F22">A</text>
<text x="301.17" y="1067.50" font-family='"DejaVu Sans", Verdana, sans-serif' font-size="35.40" fill="#B91F22">T</text>
<text x="322.84" y="1067.50" font-family='"DejaVu Sans", Verdana, sans-serif' font-size="35.40" fill="#B91F22">G</text>
<text x="371.08" y="1067.50" font-family='"DejaVu Sans", Verdana, sans-serif' font-size="35.40" fill="#B91F22">G</text>
<text x="397.65" y="1067.50" font-family='"DejaVu Sans", Verdana, sans-serif' font-size="35.40" fill="#B91F22">T</text>
<text x="421.77" y="1067.50" font-family='"DejaVu Sans", Verdana, sans-serif' font-size="35.40" fill="#B91F22">T</text>
<text x="468.72" y="1067.50" font-family='"DejaVu Sans", Verdana, sans-serif' font-size="35.40" fill="#B91F22">A</text>
<text x="491.68" y="1067.50" font-family='"DejaVu Sans", Verdana, sans-serif' font-size="35.40" fill="#B91F22">G</text>
<text x="518.25" y="1067.50" font-family='"DejaVu Sans", Verdana, sans-serif' font-size="35.40" fill="#B91F22">T</text>
<text x="565.20" y="1067.50" font-family='"DejaVu Sans", Verdana, sans-serif' font-size="35.40" fill="#B91F22">A</text>
<text x="589.32" y="1067.50" font-family='"DejaVu Sans", Verdana, sans-serif' font-size="35.40" fill="#B91F22">A</text>
<text x="613.44" y="1067.50" font-family='"DejaVu Sans", Verdana, sans-serif' font-size="35.40" fill="#B91F22">A</text>
<text x="660.52" y="1067.50" font-family='"DejaVu Sans", Verdana, sans-serif' font-size="35.40" fill="#B91F22">G</text>
<text x="684.64" y="1067.50" font-family='"DejaVu Sans", Verdana, sans-serif' font-size="35.40" fill="#B91F22">G</text>
<text x="709.92" y="1067.50" font-family='"DejaVu Sans", Verdana, sans-serif' font-size="35.40" fill="#B91F22">A</text>
<text x="757.00" y="1067.50" font-family='"DejaVu Sans", Verdana, sans-serif' font-size="35.40" fill="#B91F22">G</text>
<text x="782.28" y="1067.50" font-family='"DejaVu Sans", Verdana, sans-serif' font-size="35.40" fill="#B91F22">A</text>
<text x="806.40" y="1067.50" font-family='"DejaVu Sans", Verdana, sans-serif' font-size="35.40" fill="#B91F22">A</text>
<text x="853.48" y="1067.50" font-family='"DejaVu Sans", Verdana, sans-serif' font-size="35.40" fill="#B91F22">G</text>
<text x="878.76" y="1067.50" font-family='"DejaVu Sans", Verdana, sans-serif' font-size="35.40" fill="#B91F22">A</text>
<text x="902.88" y="1067.50" font-family='"DejaVu Sans", Verdana, sans-serif' font-size="35.40" fill="#B91F22">A</text>
<text x="949.96" y="1067.50" font-family='"DejaVu Sans", Verdana, sans-serif' font-size="35.40" fill="#B91F22">G</text>
<text x="975.24" y="1067.50" font-family='"DejaVu Sans", Verdana, sans-serif' font-size="35.40" fill="#B91F22">A</text>
<text x="1000.65" y="1067.50" font-family='"DejaVu Sans", Verdana, sans-serif' font-size="35.40" fill="#B91F22">T</text>
<text x="1047.60" y="1067.50" font-family='"DejaVu Sans", Verdana, sans-serif' font-size="35.40" fill="#B91F22">A</text>
<text x="1071.72" y="1067.50" font-family='"DejaVu Sans", Verdana, sans-serif' font-size="35.40" fill="#B91F22">A</text>
<text x="1097.13" y="1067.50" font-family='"DejaVu Sans", Verdana, sans-serif' font-size="35.40" fill="#fff">T</text>
<text x="1144.08" y="1067.50" font-family='"DejaVu Sans", Verdana, sans-serif' font-size="35.40" fill="#B91F22">A</text>
<text x="1169.49" y="1067.50" font-family='"DejaVu Sans", Verdana, sans-serif' font-size="35.40" fill="#B91F22">T</text>
<text x="1191.16" y="1067.50" font-family='"DejaVu Sans", Verdana, sans-serif' font-size="35.40" fill="#B91F22">G</text>
<text x="1239.40" y="1067.50" font-family='"DejaVu Sans", Verdana, sans-serif' font-size="35.40" fill="#B91F22">G</text>
<text x="1264.39" y="1067.50" font-family='"DejaVu Sans", Verdana, sans-serif' font-size="35.40" fill="#B91F22">C</text>
<text x="1288.80" y="1067.50" font-family='"DejaVu Sans", Verdana, sans-serif' font-size="35.40" fill="#fff">A</text>
<text x="1338.33" y="1067.50" font-family='"DejaVu Sans", Verdana, sans-serif' font-size="35.40" fill="#B91F22">T</text>
<text x="1360.87" y="1067.50" font-family='"DejaVu Sans", Verdana, sans-serif' font-size="35.40" fill="#B91F22">C</text>
<text x="1385.28" y="1067.50" font-family='"DejaVu Sans", Verdana, sans-serif' font-size="35.40" fill="#fff">A</text>
<text x="1434.81" y="1067.50" font-family='"DejaVu Sans", Verdana, sans-serif' font-size="35.40" fill="#fff">T</text>
<text x="1458.93" y="1067.50" font-family='"DejaVu Sans", Verdana, sans-serif' font-size="35.40" fill="#B91F22">T</text>
<text x="1481.76" y="1067.50" font-family='"DejaVu Sans", Verdana, sans-serif' font-size="35.40" fill="#fff">A</text>
<text x="1529.71" y="1067.50" font-family='"DejaVu Sans", Verdana, sans-serif' font-size="35.40" fill="#B91F22">C</text>
<text x="1553.83" y="1067.50" font-family='"DejaVu Sans", Verdana, sans-serif' font-size="35.40" fill="#B91F22">C</text>
<text x="1578.24" y="1067.50" font-family='"DejaVu Sans", Verdana, sans-serif' font-size="35.40" fill="#B91F22">A</text>
<text x="1625.32" y="1067.50" font-family='"DejaVu Sans", Verdana, sans-serif' font-size="35.40" fill="#B91F22">G</text>
<text x="1650.31" y="1067.50" font-family='"DejaVu Sans", Verdana, sans-serif' font-size="35.40" fill="#B91F22">C</text>
<text x="1674.72" y="1067.50" font-family='"DejaVu Sans", Verdana, sans-serif' font-size="35.40" fill="#fff">A</text>
<text x="204.22" y="1115.75" font-family='"DejaVu Sans", Verdana, sans-serif' font-size="40.15" textLength="48.68" lengthAdjust="spacingAndGlyphs" fill="#F77C00">v6</text>
<rect x="420.52" y="1085.95" width="24.12" height="40.30" fill="#BDBDBD"/>
<rect x="517.00" y="1085.95" width="24.12" height="40.30" fill="#BDBDBD"/>
<rect x="613.48" y="1085.95" width="24.12" height="40.30" fill="#BDBDBD"/>
<rect x="709.96" y="1085.95" width="24.12" height="40.30" fill="#BDBDBD"/>
<rect x="806.44" y="1085.95" width="24.12" height="40.30" fill="#BDBDBD"/>
<rect x="902.92" y="1085.95" width="24.12" height="40.30" fill="#BDBDBD"/>
<rect x="1095.88" y="1085.95" width="24.12" height="40.30" fill="#000"/>
<rect x="613.48" y="1120.15" width="386.12" height="1.90" fill="#F77C00"/>
<text x="275.76" y="1115.75" font-family='"DejaVu Sans", Verdana, sans-serif' font-size="35.40" fill="#F77C00">A</text>
<text x="301.17" y="1115.75" font-family='"DejaVu Sans", Verdana, sans-serif' font-size="35.40" fill="#F77C00">T</text>
<text x="322.84" y="1115.75" font-family='"DejaVu Sans", Verdana, sans-serif' font-size="35.40" fill="#F77C00">G</text>
<text x="371.08" y="1115.75" font-family='"DejaVu Sans", Verdana, sans-serif' font-size="35.40" fill="#F77C00">G</text>
<text x="397.65" y="1115.75" font-family='"DejaVu Sans", Verdana, sans-serif' font-size="35.40" fill="#F77C00">T</text>
<text x="421.77" y="1115.75" font-family='"DejaVu Sans", Verdana, sans-serif' font-size="35.40" fill="#F77C00">T</text>
<text x="468.72" y="1115.75" font-family='"DejaVu Sans", Verdana, sans-serif' font-size="35.40" fill="#F77C00">A</text>
<text x="491.68" y="1115.75" font-family='"DejaVu Sans", Verdana, sans-serif' font-size="35.40" fill="#F77C00">G</text>
<text x="518.25" y="1115.75" font-family='"DejaVu Sans", Verdana, sans-serif' font-size="35.40" fill="#F77C00">T</text>
<text x="565.20" y="1115.75" font-family='"DejaVu Sans", Verdana, sans-serif' font-size="35.40" fill="#F77C00">A</text>
<text x="589.32" y="1115.75" font-family='"DejaVu Sans", Verdana, sans-serif' font-size="35.40" fill="#F77C00">A</text>
<text x="613.44" y="1115.75" font-family='"DejaVu Sans", Verdana, sans-serif' font-size="35.40" fill="#F77C00">A</text>
<text x="660.52" y="1115.75" font-family='"DejaVu Sans", Verdana, sans-serif' font-size="35.40" fill="#F77C00">G</text>
<text x="684.64" y="1115.75" font-family='"DejaVu Sans", Verdana, sans-serif' font-size="35.40" fill="#F77C00">G</text>
<text x="709.92" y="1115.75" font-family='"DejaVu Sans", Verdana, sans-serif' font-size="35.40" fill="#F77C00">A</text>
<text x="757.00" y="1115.75" font-family='"DejaVu Sans", Verdana, sans-serif' font-size="35.40" fill="#F77C00">G</text>
<text x="782.28" y="1115.75" font-family='"DejaVu Sans", Verdana, sans-serif' font-size="35.40" fill="#F77C00">A</text>
<text x="806.40" y="1115.75" font-family='"DejaVu Sans", Verdana, sans-serif' font-size="35.40" fill="#F77C00">A</text>
<text x="853.48" y="1115.75" font-family='"DejaVu Sans", Verdana, sans-serif' font-size="35.40" fill="#F77C00">G</text>
<text x="878.76" y="1115.75" font-family='"DejaVu Sans", Verdana, sans-serif' font-size="35.40" fill="#F77C00">A</text>
<text x="902.88" y="1115.75" font-family='"DejaVu Sans", Verdana, sans-serif' font-size="35.40" fill="#F77C00">A</text>
<text x="949.96" y="1115.75" font-family='"DejaVu Sans", Verdana, sans-serif' font-size="35.40" fill="#F77C00">G</text>
<text x="975.24" y="1115.75" font-family='"DejaVu Sans", Verdana, sans-serif' font-size="35.40" fill="#F77C00">A</text>
<text x="1000.65" y="1115.75" font-family='"DejaVu Sans", Verdana, sans-serif' font-size="35.40" fill="#F77C00">T</text>
<text x="1047.60" y="1115.75" font-family='"DejaVu Sans", Verdana, sans-serif' font-size="35.40" fill="#F77C00">A</text>
<text x="1071.72" y="1115.75" font-family='"DejaVu Sans", Verdana, sans-serif' font-size="35.40" fill="#F77C00">A</text>
<text x="1097.13" y="1115.75" font-family='"DejaVu Sans", Verdana, sans-serif' font-size="35.40" fill="#fff">T</text>
<text x="1144.08" y="1115.75" font-family='"DejaVu Sans", Verdana, sans-serif' font-size="35.40" fill="#F77C00">A</text>
<text x="1169.49" y="1115.75" font-family='"DejaVu Sans", Verdana, sans-serif' font-size="35.40" fill="#F77C00">T</text>
<text x="1191.16" y="1115.75" font-family='"DejaVu Sans", Verdana, sans-serif' font-size="35.40" fill="#F77C00">G</text>
<text x="1239.40" y="1115.75" font-family='"DejaVu Sans", Verdana, sans-serif' font-size="35.40" fill="#F77C00">G</text>
<text x="1264.39" y="1115.75" font-family='"DejaVu Sans", Verdana, sans-serif' font-size="35.40" fill="#F77C00">C</text>
<text x="1288.51" y="1115.75" font-family='"DejaVu Sans", Verdana, sans-serif' font-size="35.40" fill="#F77C00">C</text>
<text x="1338.33" y="1115.75" font-family='"DejaVu Sans", Verdana, sans-serif' font-size="35.40" fill="#F77C00">T</text>
<text x="1360.87" y="1115.75" font-family='"DejaVu Sans", Verdana, sans-serif' font-size="35.40" fill="#F77C00">C</text>
<text x="1386.57" y="1115.75" font-family='"DejaVu Sans", Verdana, sans-serif' font-size="35.40" fill="#F77C00">T</text>
<text x="1433.23" y="1115.75" font-family='"DejaVu Sans", Verdana, sans-serif' font-size="35.40" fill="#F77C00">C</text>
<text x="1458.93" y="1115.75" font-family='"DejaVu Sans", Verdana, sans-serif' font-size="35.40" fill="#F77C00">T</text>
<text x="1481.47" y="1115.75" font-family='"DejaVu Sans", Verdana, sans-serif' font-size="35.40" fill="#F77C00">C</text>
<text x="1529.71" y="1115.75" font-family='"DejaVu Sans", Verdana, sans-serif' font-size="35.40" fill="#F77C00">C</text>
<text x="1553.83" y="1115.75" font-family='"DejaVu Sans", Verdana, sans-serif' font-size="35.40" fill="#F77C00">C</text>
<text x="1578.24" y="1115.75" font-family='"DejaVu Sans", Verdana, sans-serif' font-size="35.40" fill="#F77C00">A</text>
<text x="1625.32" y="1115.75" font-family='"DejaVu Sans", Verdana, sans-serif' font-size="35.40" fill="#F77C00">G</text>
<text x="1650.31" y="1115.75" font-family='"DejaVu Sans", Verdana, sans-serif' font-size="35.40" fill="#F77C00">C</text>
<text x="1673.56" y="1115.75" font-family='"DejaVu Sans", Verdana, sans-serif' font-size="35.40" fill="#F77C00">G</text>
<text x="201.34" y="1212.29" font-family='"Liberation Sans", Arial, sans-serif' font-size="42.09" textLength="50.56" lengthAdjust="spacingAndGlyphs" fill="#000">16</text>
<text x="1723.57" y="1211.99" font-family='"Liberation Sans", Arial, sans-serif' font-size="42.23" textLength="49.22" lengthAdjust="spacingAndGlyphs" fill="#000">29</text>
<rect x="275.80" y="1182.95" width="72.36" height="40.00" fill="#92D050"/>
<rect x="299.42" y="1182.95" width="1" height="40.00" fill="#fff" fill-opacity="0.2"/>
<rect x="323.54" y="1182.95" width="1" height="40.00" fill="#fff" fill-opacity="0.1"/>
<text x="301.13" y="1212.85" font-family='"DejaVu Sans", Verdana, sans-serif' font-size="35.53" fill="#fff">T</text>
<rect x="372.28" y="1182.95" width="72.36" height="40.00" fill="#92D050"/>
<rect x="395.90" y="1182.95" width="1" height="40.00" fill="#fff" fill-opacity="0.2"/>
<rect x="420.02" y="1182.95" width="1" height="40.00" fill="#fff" fill-opacity="0.1"/>
<text x="395.10" y="1212.85" font-family='"DejaVu Sans", Verdana, sans-serif' font-size="35.53" fill="#fff">H</text>
<rect x="468.76" y="1182.95" width="72.36" height="40.00" fill="#92D050"/>
<rect x="492.38" y="1182.95" width="1" height="40.00" fill="#fff" fill-opacity="0.2"/>
<rect x="516.50" y="1182.95" width="1" height="40.00" fill="#fff" fill-opacity="0.1"/>
<text x="493.11" y="1212.85" font-family='"DejaVu Sans", Verdana, sans-serif' font-size="35.53" fill="#fff">E</text>
<rect x="565.24" y="1182.95" width="72.36" height="40.00" fill="#92D050"/>
<rect x="588.86" y="1182.95" width="1" height="40.00" fill="#fff" fill-opacity="0.2"/>
<rect x="612.98" y="1182.95" width="1" height="40.00" fill="#fff" fill-opacity="0.1"/>
<text x="589.88" y="1212.85" font-family='"DejaVu Sans", Verdana, sans-serif' font-size="35.53" fill="#fff">L</text>
<rect x="661.72" y="1182.95" width="72.36" height="40.00" fill="#92D050"/>
<rect x="685.34" y="1182.95" width="1" height="40.00" fill="#fff" fill-opacity="0.2"/>
<rect x="709.46" y="1182.95" width="1" height="40.00" fill="#fff" fill-opacity="0.1"/>
<text x="684.54" y="1212.85" font-family='"DejaVu Sans", Verdana, sans-serif' font-size="35.53" fill="#fff">H</text>
<rect x="758.20" y="1182.95" width="72.36" height="40.00" fill="#92D050"/>
<rect x="781.82" y="1182.95" width="1" height="40.00" fill="#fff" fill-opacity="0.2"/>
<rect x="805.94" y="1182.95" width="1" height="40.00" fill="#fff" fill-opacity="0.1"/>
<text x="781.02" y="1212.65" font-family='"DejaVu Sans Mono", monospace' font-size="35.25" textLength="26.77" lengthAdjust="spacingAndGlyphs" fill="#fff">I</text>
<rect x="854.68" y="1182.95" width="72.36" height="40.00" fill="#92D050"/>
<rect x="878.30" y="1182.95" width="1" height="40.00" fill="#fff" fill-opacity="0.2"/>
<rect x="902.42" y="1182.95" width="1" height="40.00" fill="#fff" fill-opacity="0.1"/>
<text x="879.93" y="1212.85" font-family='"DejaVu Sans", Verdana, sans-serif' font-size="35.53" fill="#fff">F</text>
<rect x="951.16" y="1182.95" width="72.36" height="40.00" fill="#92D050"/>
<rect x="974.78" y="1182.95" width="1" height="40.00" fill="#fff" fill-opacity="0.2"/>
<rect x="998.90" y="1182.95" width="1" height="40.00" fill="#fff" fill-opacity="0.1"/>
<text x="974.27" y="1212.85" font-family='"DejaVu Sans", Verdana, sans-serif' font-size="34.90" fill="#fff">G</text>
<rect x="1047.64" y="1182.95" width="72.36" height="40.00" fill="#92D050"/>
<rect x="1071.26" y="1182.95" width="1" height="40.00" fill="#fff" fill-opacity="0.2"/>
<rect x="1095.38" y="1182.95" width="1" height="40.00" fill="#fff" fill-opacity="0.1"/>
<text x="1072.57" y="1212.85" font-family='"DejaVu Sans", Verdana, sans-serif' font-size="34.90" fill="#fff">S</text>
<rect x="1144.12" y="1182.95" width="72.36" height="40.00" fill="#92D050"/>
<rect x="1167.74" y="1182.95" width="1" height="40.00" fill="#fff" fill-opacity="0.2"/>
<rect x="1191.86" y="1182.95" width="1" height="40.00" fill="#fff" fill-opacity="0.1"/>
<text x="1166.94" y="1212.65" font-family='"DejaVu Sans Mono", monospace' font-size="35.25" textLength="26.77" lengthAdjust="spacingAndGlyphs" fill="#fff">I</text>
<rect x="1240.60" y="1182.95" width="72.36" height="40.00" fill="#92D050"/>
<rect x="1264.22" y="1182.95" width="1" height="40.00" fill="#fff" fill-opacity="0.2"/>
<rect x="1288.34" y="1182.95" width="1" height="40.00" fill="#fff" fill-opacity="0.1"/>
<text x="1263.49" y="1212.85" font-family='"DejaVu Sans", Verdana, sans-serif' font-size="35.53" fill="#fff">N</text>
<rect x="1337.08" y="1182.95" width="72.36" height="40.00" fill="#92D050"/>
<rect x="1360.70" y="1182.95" width="1" height="40.00" fill="#fff" fill-opacity="0.2"/>
<rect x="1384.82" y="1182.95" width="1" height="40.00" fill="#fff" fill-opacity="0.1"/>
<text x="1360.19" y="1212.85" font-family='"DejaVu Sans", Verdana, sans-serif' font-size="34.90" fill="#fff">G</text>
<rect x="1433.56" y="1182.95" width="72.36" height="40.00" fill="#92D050"/>
<rect x="1457.18" y="1182.95" width="1" height="40.00" fill="#fff" fill-opacity="0.2"/>
<rect x="1481.30" y="1182.95" width="1" height="40.00" fill="#fff" fill-opacity="0.1"/>
<text x="1457.60" y="1212.85" font-family='"DejaVu Sans", Verdana, sans-serif' font-size="35.53" fill="#fff">V</text>
<rect x="1530.04" y="1182.95" width="72.36" height="40.00" fill="#92D050"/>
<rect x="1553.66" y="1182.95" width="1" height="40.00" fill="#fff" fill-opacity="0.2"/>
<rect x="1577.78" y="1182.95" width="1" height="40.00" fill="#fff" fill-opacity="0.1"/>
<text x="1551.85" y="1212.85" font-family='"DejaVu Sans", Verdana, sans-serif' font-size="35.53" fill="#fff">D</text>
<text x="204.19" y="1260.75" font-family='"DejaVu Sans", Verdana, sans-serif' font-size="40.88" textLength="49.97" lengthAdjust="spacingAndGlyphs" fill="#7F9FE2">v1</text>
<text x="275.76" y="1260.75" font-family='"DejaVu Sans", Verdana, sans-serif' font-size="35.40" fill="#7F9FE2">A</text>
<text x="299.59" y="1260.75" font-family='"DejaVu Sans", Verdana, sans-serif' font-size="35.40" fill="#7F9FE2">C</text>
<text x="324.00" y="1260.75" font-family='"DejaVu Sans", Verdana, sans-serif' font-size="35.40" fill="#7F9FE2">A</text>
<text x="371.95" y="1260.75" font-family='"DejaVu Sans", Verdana, sans-serif' font-size="35.40" fill="#7F9FE2">C</text>
<text x="396.36" y="1260.75" font-family='"DejaVu Sans", Verdana, sans-serif' font-size="35.40" fill="#7F9FE2">A</text>
<text x="421.77" y="1260.75" font-family='"DejaVu Sans", Verdana, sans-serif' font-size="35.40" fill="#7F9FE2">T</text>
<text x="467.56" y="1260.75" font-family='"DejaVu Sans", Verdana, sans-serif' font-size="35.40" fill="#7F9FE2">G</text>
<text x="492.84" y="1260.75" font-family='"DejaVu Sans", Verdana, sans-serif' font-size="35.40" fill="#7F9FE2">A</text>
<text x="515.80" y="1260.75" font-family='"DejaVu Sans", Verdana, sans-serif' font-size="35.40" fill="#7F9FE2">G</text>
<text x="566.49" y="1260.75" font-family='"DejaVu Sans", Verdana, sans-serif' font-size="35.40" fill="#7F9FE2">T</text>
<text x="590.61" y="1260.75" font-family='"DejaVu Sans", Verdana, sans-serif' font-size="35.40" fill="#7F9FE2">T</text>
<text x="613.44" y="1260.75" font-family='"DejaVu Sans", Verdana, sans-serif' font-size="35.40" fill="#7F9FE2">A</text>
<text x="661.39" y="1260.75" font-family='"DejaVu Sans", Verdana, sans-serif' font-size="35.40" fill="#7F9FE2">C</text>
<text x="685.80" y="1260.75" font-family='"DejaVu Sans", Verdana, sans-serif' font-size="35.40" fill="#7F9FE2">A</text>
<text x="709.63" y="1260.75" font-family='"DejaVu Sans", Verdana, sans-serif' font-size="35.40" fill="#7F9FE2">C</text>
<text x="758.16" y="1260.75" font-family='"DejaVu Sans", Verdana, sans-serif' font-size="35.40" fill="#7F9FE2">A</text>
<text x="783.57" y="1260.75" font-family='"DejaVu Sans", Verdana, sans-serif' font-size="35.40" fill="#7F9FE2">T</text>
<text x="806.11" y="1260.75" font-family='"DejaVu Sans", Verdana, sans-serif' font-size="35.40" fill="#7F9FE2">C</text>
<text x="855.93" y="1260.75" font-family='"DejaVu Sans", Verdana, sans-serif' font-size="35.40" fill="#7F9FE2">T</text>
<text x="880.05" y="1260.75" font-family='"DejaVu Sans", Verdana, sans-serif' font-size="35.40" fill="#7F9FE2">T</text>
<text x="904.17" y="1260.75" font-family='"DejaVu Sans", Verdana, sans-serif' font-size="35.40" fill="#7F9FE2">T</text>
<text x="949.96" y="1260.75" font-family='"DejaVu Sans", Verdana, sans-serif' font-size="35.40" fill="#7F9FE2">G</text>
<text x="974.08" y="1260.75" font-family='"DejaVu Sans", Verdana, sans-serif' font-size="35.40" fill="#7F9FE2">G</text>
<text x="999.07" y="1260.75" font-family='"DejaVu Sans", Verdana, sans-serif' font-size="35.40" fill="#7F9FE2">C</text>
<text x="1048.89" y="1260.75" font-family='"DejaVu Sans", Verdana, sans-serif' font-size="35.40" fill="#7F9FE2">T</text>
<text x="1071.43" y="1260.75" font-family='"DejaVu Sans", Verdana, sans-serif' font-size="35.40" fill="#7F9FE2">C</text>
<text x="1095.55" y="1260.75" font-family='"DejaVu Sans", Verdana, sans-serif' font-size="35.40" fill="#7F9FE2">C</text>
<text x="1144.08" y="1260.75" font-family='"DejaVu Sans", Verdana, sans-serif' font-size="35.40" fill="#7F9FE2">A</text>
<text x="1169.49" y="1260.75" font-family='"DejaVu Sans", Verdana, sans-serif' font-size="35.40" fill="#7F9FE2">T</text>
<text x="1192.03" y="1260.75" font-family='"DejaVu Sans", Verdana, sans-serif' font-size="35.40" fill="#7F9FE2">C</text>
<text x="1240.56" y="1260.75" font-family='"DejaVu Sans", Verdana, sans-serif' font-size="35.40" fill="#7F9FE2">A</text>
<text x="1264.68" y="1260.75" font-family='"DejaVu Sans", Verdana, sans-serif' font-size="35.40" fill="#7F9FE2">A</text>
<text x="1288.51" y="1260.75" font-family='"DejaVu Sans", Verdana, sans-serif' font-size="35.40" fill="#7F9FE2">C</text>
<text x="1335.88" y="1260.75" font-family='"DejaVu Sans", Verdana, sans-serif' font-size="35.40" fill="#7F9FE2">G</text>
<text x="1360.00" y="1260.75" font-family='"DejaVu Sans", Verdana, sans-serif' font-size="35.40" fill="#7F9FE2">G</text>
<text x="1386.57" y="1260.75" font-family='"DejaVu Sans", Verdana, sans-serif' font-size="35.40" fill="#7F9FE2">T</text>
<text x="1432.36" y="1260.75" font-family='"DejaVu Sans", Verdana, sans-serif' font-size="35.40" fill="#7F9FE2">G</text>
<text x="1458.93" y="1260.75" font-family='"DejaVu Sans", Verdana, sans-serif' font-size="35.40" fill="#7F9FE2">T</text>
<text x="1480.60" y="1260.75" font-family='"DejaVu Sans", Verdana, sans-serif' font-size="35.40" fill="#7F9FE2">G</text>
<text x="1528.84" y="1260.75" font-family='"DejaVu Sans", Verdana, sans-serif' font-size="35.40" fill="#7F9FE2">G</text>
<text x="1554.12" y="1260.75" font-family='"DejaVu Sans", Verdana, sans-serif' font-size="35.40" fill="#7F9FE2">A</text>
<text x="1577.95" y="1260.75" font-family='"DejaVu Sans", Verdana, sans-serif' font-size="35.40" fill="#7F9FE2">C</text>
<text x="204.18" y="1309.00" font-family='"DejaVu Sans", Verdana, sans-serif' font-size="40.15" textLength="50.32" lengthAdjust="spacingAndGlyphs" fill="#36135F">v2</text>
<text x="275.76" y="1309.00" font-family='"DejaVu Sans", Verdana, sans-serif' font-size="35.40" fill="#36135F">A</text>
<text x="299.59" y="1309.00" font-family='"DejaVu Sans", Verdana, sans-serif' font-size="35.40" fill="#36135F">C</text>
<text x="324.00" y="1309.00" font-family='"DejaVu Sans", Verdana, sans-serif' font-size="35.40" fill="#36135F">A</text>
<text x="371.95" y="1309.00" font-family='"DejaVu Sans", Verdana, sans-serif' font-size="35.40" fill="#36135F">C</text>
<text x="396.36" y="1309.00" font-family='"DejaVu Sans", Verdana, sans-serif' font-size="35.40" fill="#36135F">A</text>
<text x="421.77" y="1309.00" font-family='"DejaVu Sans", Verdana, sans-serif' font-size="35.40" fill="#36135F">T</text>
<text x="467.56" y="1309.00" font-family='"DejaVu Sans", Verdana, sans-serif' font-size="35.40" fill="#36135F">G</text>
<text x="492.84" y="1309.00" font-family='"DejaVu Sans", Verdana, sans-serif' font-size="35.40" fill="#36135F">A</text>
<text x="515.80" y="1309.00" font-family='"DejaVu Sans", Verdana, sans-serif' font-size="35.40" fill="#36135F">G</text>
<text x="566.49" y="1309.00" font-family='"DejaVu Sans", Verdana, sans-serif' font-size="35.40" fill="#36135F">T</text>
<text x="590.61" y="1309.00" font-family='"DejaVu Sans", Verdana, sans-serif' font-size="35.40" fill="#36135F">T</text>
<text x="613.44" y="1309.00" font-family='"DejaVu Sans", Verdana, sans-serif' font-size="35.40" fill="#36135F">A</text>
<text x="661.39" y="1309.00" font-family='"DejaVu Sans", Verdana, sans-serif' font-size="35.40" fill="#36135F">C</text>
<text x="685.80" y="1309.00" font-family='"DejaVu Sans", Verdana, sans-serif' font-size="35.40" fill="#36135F">A</text>
<text x="709.63" y="1309.00" font-family='"DejaVu Sans", Verdana, sans-serif' font-size="35.40" fill="#36135F">C</text>
<text x="758.16" y="1309.00" font-family='"DejaVu Sans", Verdana, sans-serif' font-size="35.40" fill="#36135F">A</text>
<text x="783.57" y="1309.00" font-family='"DejaVu Sans", Verdana, sans-serif' font-size="35.40" fill="#36135F">T</text>
<text x="806.11" y="1309.00" font-family='"DejaVu Sans", Verdana, sans-serif' font-size="35.40" fill="#36135F">C</text>
<text x="855.93" y="1309.00" font-family='"DejaVu Sans", Verdana, sans-serif' font-size="35.40" fill="#36135F">T</text>
<text x="880.05" y="1309.00" font-family='"DejaVu Sans", Verdana, sans-serif' font-size="35.40" fill="#36135F">T</text>
<text x="904.17" y="1309.00" font-family='"DejaVu Sans", Verdana, sans-serif' font-size="35.40" fill="#36135F">T</text>
<text x="949.96" y="1309.00" font-family='"DejaVu Sans", Verdana, sans-serif' font-size="35.40" fill="#36135F">G</text>
<text x="974.08" y="1309.00" font-family='"DejaVu Sans", Verdana, sans-serif' font-size="35.40" fill="#36135F">G</text>
<text x="999.07" y="1309.00" font-family='"DejaVu Sans", Verdana, sans-serif' font-size="35.40" fill="#36135F">C</text>
<text x="1048.89" y="1309.00" font-family='"DejaVu Sans", Verdana, sans-serif' font-size="35.40" fill="#36135F">T</text>
<text x="1071.43" y="1309.00" font-family='"DejaVu Sans", Verdana, sans-serif' font-size="35.40" fill="#36135F">C</text>
<text x="1095.55" y="1309.00" font-family='"DejaVu Sans", Verdana, sans-serif' font-size="35.40" fill="#36135F">C</text>
<text x="1144.08" y="1309.00" font-family='"DejaVu Sans", Verdana, sans-serif' font-size="35.40" fill="#36135F">A</text>
<text x="1169.49" y="1309.00" font-family='"DejaVu Sans", Verdana, sans-serif' font-size="35.40" fill="#36135F">T</text>
<text x="1192.03" y="1309.00" font-family='"DejaVu Sans", Verdana, sans-serif' font-size="35.40" fill="#36135F">C</text>
<text x="1240.56" y="1309.00" font-family='"DejaVu Sans", Verdana, sans-serif' font-size="35.40" fill="#36135F">A</text>
<text x="1264.68" y="1309.00" font-family='"DejaVu Sans", Verdana, sans-serif' font-size="35.40" fill="#36135F">A</text>
<text x="1288.51" y="1309.00" font-family='"DejaVu Sans", Verdana, sans-serif' font-size="35.40" fill="#36135F">C</text>
<text x="1335.88" y="1309.00" font-family='"DejaVu Sans", Verdana, sans-serif' font-size="35.40" fill="#36135F">G</text>
<text x="1360.00" y="1309.00" font-family='"DejaVu Sans", Verdana, sans-serif' font-size="35.40" fill="#36135F">G</text>
<text x="1386.57" y="1309.00" font-family='"DejaVu Sans", Verdana, sans-serif' font-size="35.40" fill="#36135F">T</text>
<text x="1432.36" y="1309.00" font-family='"DejaVu Sans", Verdana, sans-serif' font-size="35.40" fill="#36135F">G</text>
<text x="1458.93" y="1309.00" font-family='"DejaVu Sans", Verdana, sans-serif' font-size="35.40" fill="#36135F">T</text>
<text x="1480.60" y="1309.00" font-family='"DejaVu Sans", Verdana, sans-serif' font-size="35.40" fill="#36135F">G</text>
<text x="1528.84" y="1309.00" font-family='"DejaVu Sans", Verdana, sans-serif' font-size="35.40" fill="#36135F">G</text>
<text x="1554.12" y="1309.00" font-family='"DejaVu Sans", Verdana, sans-serif' font-size="35.40" fill="#36135F">A</text>
<text x="1577.95" y="1309.00" font-family='"DejaVu Sans", Verdana, sans-serif' font-size="35.40" fill="#36135F">C</text>
<text x="204.20" y="1357.25" font-family='"DejaVu Sans", Verdana, sans-serif' font-size="40.15" textLength="49.42" lengthAdjust="spacingAndGlyphs" fill="#834577">v3</text>
<text x="275.76" y="1357.25" font-family='"DejaVu Sans", Verdana, sans-serif' font-size="35.40" fill="#834577">A</text>
<text x="299.59" y="1357.25" font-family='"DejaVu Sans", Verdana, sans-serif' font-size="35.40" fill="#834577">C</text>
<text x="324.00" y="1357.25" font-family='"DejaVu Sans", Verdana, sans-serif' font-size="35.40" fill="#834577">A</text>
<text x="371.95" y="1357.25" font-family='"DejaVu Sans", Verdana, sans-serif' font-size="35.40" fill="#834577">C</text>
<text x="396.36" y="1357.25" font-family='"DejaVu Sans", Verdana, sans-serif' font-size="35.40" fill="#834577">A</text>
<text x="421.77" y="1357.25" font-family='"DejaVu Sans", Verdana, sans-serif' font-size="35.40" fill="#834577">T</text>
<text x="467.56" y="1357.25" font-family='"DejaVu Sans", Verdana, sans-serif' font-size="35.40" fill="#834577">G</text>
<text x="492.84" y="1357.25" font-family='"DejaVu Sans", Verdana, sans-serif' font-size="35.40" fill="#834577">A</text>
<text x="515.80" y="1357.25" font-family='"DejaVu Sans", Verdana, sans-serif' font-size="35.40" fill="#834577">G</text>
<text x="566.49" y="1357.25" font-family='"DejaVu Sans", Verdana, sans-serif' font-size="35.40" fill="#834577">T</text>
<text x="590.61" y="1357.25" font-family='"DejaVu Sans", Verdana, sans-serif' font-size="35.40" fill="#834577">T</text>
<text x="613.44" y="1357.25" font-family='"DejaVu Sans", Verdana, sans-serif' font-size="35.40" fill="#834577">A</text>
<text x="661.39" y="1357.25" font-family='"DejaVu Sans", Verdana, sans-serif' font-size="35.40" fill="#834577">C</text>
<text x="685.80" y="1357.25" font-family='"DejaVu Sans", Verdana, sans-serif' font-size="35.40" fill="#834577">A</text>
<text x="709.63" y="1357.25" font-family='"DejaVu Sans", Verdana, sans-serif' font-size="35.40" fill="#834577">C</text>
<text x="758.16" y="1357.25" font-family='"DejaVu Sans", Verdana, sans-serif' font-size="35.40" fill="#834577">A</text>
<text x="783.57" y="1357.25" font-family='"DejaVu Sans", Verdana, sans-serif' font-size="35.40" fill="#834577">T</text>
<text x="806.11" y="1357.25" font-family='"DejaVu Sans", Verdana, sans-serif' font-size="35.40" fill="#834577">C</text>
<text x="855.93" y="1357.25" font-family='"DejaVu Sans", Verdana, sans-serif' font-size="35.40" fill="#834577">T</text>
<text x="880.05" y="1357.25" font-family='"DejaVu Sans", Verdana, sans-serif' font-size="35.40" fill="#834577">T</text>
<text x="904.17" y="1357.25" font-family='"DejaVu Sans", Verdana, sans-serif' font-size="35.40" fill="#834577">T</text>
<text x="949.96" y="1357.25" font-family='"DejaVu Sans", Verdana, sans-serif' font-size="35.40" fill="#834577">G</text>
<text x="974.08" y="1357.25" font-family='"DejaVu Sans", Verdana, sans-serif' font-size="35.40" fill="#834577">G</text>
<text x="999.07" y="1357.25" font-family='"DejaVu Sans", Verdana, sans-serif' font-size="35.40" fill="#834577">C</text>
<text x="1048.89" y="1357.25" font-family='"DejaVu Sans", Verdana, sans-serif' font-size="35.40" fill="#834577">T</text>
<text x="1071.43" y="1357.25" font-family='"DejaVu Sans", Verdana, sans-serif' font-size="35.40" fill="#834577">C</text>
<text x="1095.55" y="1357.25" font-family='"DejaVu Sans", Verdana, sans-serif' font-size="35.40" fill="#834577">C</text>
<text x="1144.08" y="1357.25" font-family='"DejaVu Sans", Verdana, sans-serif' font-size="35.40" fill="#834577">A</text>
<text x="1169.49" y="1357.25" font-family='"DejaVu Sans", Verdana, sans-serif' font-size="35.40" fill="#834577">T</text>
<text x="1192.03" y="1357.25" font-family='"DejaVu Sans", Verdana, sans-serif' font-size="35.40" fill="#834577">C</text>
<text x="1240.56" y="1357.25" font-family='"DejaVu Sans", Verdana, sans-serif' font-size="35.40" fill="#834577">A</text>
<text x="1264.68" y="1357.25" font-family='"DejaVu Sans", Verdana, sans-serif' font-size="35.40" fill="#834577">A</text>
<text x="1288.51" y="1357.25" font-family='"DejaVu Sans", Verdana, sans-serif' font-size="35.40" fill="#834577">C</text>
<text x="1335.88" y="1357.25" font-family='"DejaVu Sans", Verdana, sans-serif' font-size="35.40" fill="#834577">G</text>
<text x="1360.00" y="1357.25" font-family='"DejaVu Sans", Verdana, sans-serif' font-size="35.40" fill="#834577">G</text>
<text x="1386.57" y="1357.25" font-family='"DejaVu Sans", Verdana, sans-serif' font-size="35.40" fill="#834577">T</text>
<text x="1432.36" y="1357.25" font-family='"DejaVu Sans", Verdana, sans-serif' font-size="35.40" fill="#834577">G</text>
<text x="1458.93" y="1357.25" font-family='"DejaVu Sans", Verdana, sans-serif' font-size="35.40" fill="#834577">T</text>
<text x="1480.60" y="1357.25" font-family='"DejaVu Sans", Verdana, sans-serif' font-size="35.40" fill="#834577">G</text>
<text x="1528.84" y="1357.25" font-family='"DejaVu Sans", Verdana, sans-serif' font-size="35.40" fill="#834577">G</text>
<text x="1554.12" y="1357.25" font-family='"DejaVu Sans", Verdana, sans-serif' font-size="35.40" fill="#834577">A</text>
<text x="1577.95" y="1357.25" font-family='"DejaVu Sans", Verdana, sans-serif' font-size="35.40" fill="#834577">C</text>
<text x="204.23" y="1405.50" font-family='"DejaVu Sans", Verdana, sans-serif' font-size="40.88" textLength="48.39" lengthAdjust="spacingAndGlyphs" fill="#FB918A">v4</text>
<rect x="517.00" y="1375.70" width="24.12" height="40.30" fill="#000"/>
<rect x="709.96" y="1375.70" width="24.12" height="40.30" fill="#000"/>
<rect x="806.44" y="1375.70" width="24.12" height="40.30" fill="#000"/>
<rect x="999.40" y="1375.70" width="24.12" height="40.30" fill="#000"/>
<rect x="1095.88" y="1375.70" width="24.12" height="40.30" fill="#000"/>
<rect x="1192.36" y="1375.70" width="24.12" height="40.30" fill="#000"/>
<rect x="1288.84" y="1375.70" width="24.12" height="40.30" fill="#000"/>
<rect x="1481.80" y="1375.70" width="24.12" height="40.30" fill="#000"/>
<rect x="1578.28" y="1375.70" width="24.12" height="40.30" fill="#000"/>
<text x="275.76" y="1405.50" font-family='"DejaVu Sans", Verdana, sans-serif' font-size="35.40" fill="#FB918A">A</text>
<text x="299.59" y="1405.50" font-family='"DejaVu Sans", Verdana, sans-serif' font-size="35.40" fill="#FB918A">C</text>
<text x="324.00" y="1405.50" font-family='"DejaVu Sans", Verdana, sans-serif' font-size="35.40" fill="#FB918A">A</text>
<text x="371.95" y="1405.50" font-family='"DejaVu Sans", Verdana, sans-serif' font-size="35.40" fill="#FB918A">C</text>
<text x="396.36" y="1405.50" font-family='"DejaVu Sans", Verdana, sans-serif' font-size="35.40" fill="#FB918A">A</text>
<text x="421.77" y="1405.50" font-family='"DejaVu Sans", Verdana, sans-serif' font-size="35.40" fill="#FB918A">T</text>
<text x="467.56" y="1405.50" font-family='"DejaVu Sans", Verdana, sans-serif' font-size="35.40" fill="#FB918A">G</text>
<text x="492.84" y="1405.50" font-family='"DejaVu Sans", Verdana, sans-serif' font-size="35.40" fill="#FB918A">A</text>
<text x="516.96" y="1405.50" font-family='"DejaVu Sans", Verdana, sans-serif' font-size="35.40" fill="#fff">A</text>
<text x="566.49" y="1405.50" font-family='"DejaVu Sans", Verdana, sans-serif' font-size="35.40" fill="#FB918A">T</text>
<text x="590.61" y="1405.50" font-family='"DejaVu Sans", Verdana, sans-serif' font-size="35.40" fill="#FB918A">T</text>
<text x="613.44" y="1405.50" font-family='"DejaVu Sans", Verdana, sans-serif' font-size="35.40" fill="#FB918A">A</text>
<text x="661.39" y="1405.50" font-family='"DejaVu Sans", Verdana, sans-serif' font-size="35.40" fill="#FB918A">C</text>
<text x="685.80" y="1405.50" font-family='"DejaVu Sans", Verdana, sans-serif' font-size="35.40" fill="#FB918A">A</text>
<text x="711.21" y="1405.50" font-family='"DejaVu Sans", Verdana, sans-serif' font-size="35.40" fill="#fff">T</text>
<text x="758.16" y="1405.50" font-family='"DejaVu Sans", Verdana, sans-serif' font-size="35.40" fill="#FB918A">A</text>
<text x="783.57" y="1405.50" font-family='"DejaVu Sans", Verdana, sans-serif' font-size="35.40" fill="#FB918A">T</text>
<text x="807.69" y="1405.50" font-family='"DejaVu Sans", Verdana, sans-serif' font-size="35.40" fill="#fff">T</text>
<text x="855.93" y="1405.50" font-family='"DejaVu Sans", Verdana, sans-serif' font-size="35.40" fill="#FB918A">T</text>
<text x="880.05" y="1405.50" font-family='"DejaVu Sans", Verdana, sans-serif' font-size="35.40" fill="#FB918A">T</text>
<text x="904.17" y="1405.50" font-family='"DejaVu Sans", Verdana, sans-serif' font-size="35.40" fill="#FB918A">T</text>
<text x="949.96" y="1405.50" font-family='"DejaVu Sans", Verdana, sans-serif' font-size="35.40" fill="#FB918A">G</text>
<text x="974.08" y="1405.50" font-family='"DejaVu Sans", Verdana, sans-serif' font-size="35.40" fill="#FB918A">G</text>
<text x="1000.65" y="1405.50" font-family='"DejaVu Sans", Verdana, sans-serif' font-size="35.40" fill="#fff">T</text>
<text x="1048.89" y="1405.50" font-family='"DejaVu Sans", Verdana, sans-serif' font-size="35.40" fill="#FB918A">T</text>
<text x="1071.43" y="1405.50" font-family='"DejaVu Sans", Verdana, sans-serif' font-size="35.40" fill="#FB918A">C</text>
<text x="1097.13" y="1405.50" font-family='"DejaVu Sans", Verdana, sans-serif' font-size="35.40" fill="#fff">T</text>
<text x="1144.08" y="1405.50" font-family='"DejaVu Sans", Verdana, sans-serif' font-size="35.40" fill="#FB918A">A</text>
<text x="1169.49" y="1405.50" font-family='"DejaVu Sans", Verdana, sans-serif' font-size="35.40" fill="#FB918A">T</text>
<text x="1193.61" y="1405.50" font-family='"DejaVu Sans", Verdana, sans-serif' font-size="35.40" fill="#fff">T</text>
<text x="1240.56" y="1405.50" font-family='"DejaVu Sans", Verdana, sans-serif' font-size="35.40" fill="#FB918A">A</text>
<text x="1264.68" y="1405.50" font-family='"DejaVu Sans", Verdana, sans-serif' font-size="35.40" fill="#FB918A">A</text>
<text x="1290.09" y="1405.50" font-family='"DejaVu Sans", Verdana, sans-serif' font-size="35.40" fill="#fff">T</text>
<text x="1335.88" y="1405.50" font-family='"DejaVu Sans", Verdana, sans-serif' font-size="35.40" fill="#FB918A">G</text>
<text x="1360.00" y="1405.50" font-family='"DejaVu Sans", Verdana, sans-serif' font-size="35.40" fill="#FB918A">G</text>
<text x="1386.57" y="1405.50" font-family='"DejaVu Sans", Verdana, sans-serif' font-size="35.40" fill="#FB918A">T</text>
<text x="1432.36" y="1405.50" font-family='"DejaVu Sans", Verdana, sans-serif' font-size="35.40" fill="#FB918A">G</text>
<text x="1458.93" y="1405.50" font-family='"DejaVu Sans", Verdana, sans-serif' font-size="35.40" fill="#FB918A">T</text>
<text x="1483.05" y="1405.50" font-family='"DejaVu Sans", Verdana, sans-serif' font-size="35.40" fill="#fff">T</text>
<text x="1528.84" y="1405.50" font-family='"DejaVu Sans", Verdana, sans-serif' font-size="35.40" fill="#FB918A">G</text>
<text x="1554.12" y="1405.50" font-family='"DejaVu Sans", Verdana, sans-serif' font-size="35.40" fill="#FB918A">A</text>
<text x="1579.53" y="1405.50" font-family='"DejaVu Sans", Verdana, sans-serif' font-size="35.40" fill="#fff">T</text>
<text x="204.19" y="1453.75" font-family='"DejaVu Sans", Verdana, sans-serif' font-size="40.88" textLength="49.75" lengthAdjust="spacingAndGlyphs" fill="#B91F22">v5</text>
<rect x="517.00" y="1423.95" width="24.12" height="40.30" fill="#000"/>
<rect x="709.96" y="1423.95" width="24.12" height="40.30" fill="#000"/>
<rect x="806.44" y="1423.95" width="24.12" height="40.30" fill="#000"/>
<rect x="999.40" y="1423.95" width="24.12" height="40.30" fill="#000"/>
<rect x="1095.88" y="1423.95" width="24.12" height="40.30" fill="#000"/>
<rect x="1192.36" y="1423.95" width="24.12" height="40.30" fill="#000"/>
<rect x="1288.84" y="1423.95" width="24.12" height="40.30" fill="#000"/>
<rect x="1481.80" y="1423.95" width="24.12" height="40.30" fill="#000"/>
<rect x="1578.28" y="1423.95" width="24.12" height="40.30" fill="#000"/>
<text x="275.76" y="1453.75" font-family='"DejaVu Sans", Verdana, sans-serif' font-size="35.40" fill="#B91F22">A</text>
<text x="299.59" y="1453.75" font-family='"DejaVu Sans", Verdana, sans-serif' font-size="35.40" fill="#B91F22">C</text>
<text x="324.00" y="1453.75" font-family='"DejaVu Sans", Verdana, sans-serif' font-size="35.40" fill="#B91F22">A</text>
<text x="371.95" y="1453.75" font-family='"DejaVu Sans", Verdana, sans-serif' font-size="35.40" fill="#B91F22">C</text>
<text x="396.36" y="1453.75" font-family='"DejaVu Sans", Verdana, sans-serif' font-size="35.40" fill="#B91F22">A</text>
<text x="421.77" y="1453.75" font-family='"DejaVu Sans", Verdana, sans-serif' font-size="35.40" fill="#B91F22">T</text>
<text x="467.56" y="1453.75" font-family='"DejaVu Sans", Verdana, sans-serif' font-size="35.40" fill="#B91F22">G</text>
<text x="492.84" y="1453.75" font-family='"DejaVu Sans", Verdana, sans-serif' font-size="35.40" fill="#B91F22">A</text>
<text x="516.96" y="1453.75" font-family='"DejaVu Sans", Verdana, sans-serif' font-size="35.40" fill="#fff">A</text>
<text x="566.49" y="1453.75" font-family='"DejaVu Sans", Verdana, sans-serif' font-size="35.40" fill="#B91F22">T</text>
<text x="590.61" y="1453.75" font-family='"DejaVu Sans", Verdana, sans-serif' font-size="35.40" fill="#B91F22">T</text>
<text x="613.44" y="1453.75" font-family='"DejaVu Sans", Verdana, sans-serif' font-size="35.40" fill="#B91F22">A</text>
<text x="661.39" y="1453.75" font-family='"DejaVu Sans", Verdana, sans-serif' font-size="35.40" fill="#B91F22">C</text>
<text x="685.80" y="1453.75" font-family='"DejaVu Sans", Verdana, sans-serif' font-size="35.40" fill="#B91F22">A</text>
<text x="711.21" y="1453.75" font-family='"DejaVu Sans", Verdana, sans-serif' font-size="35.40" fill="#fff">T</text>
<text x="758.16" y="1453.75" font-family='"DejaVu Sans", Verdana, sans-serif' font-size="35.40" fill="#B91F22">A</text>
<text x="783.57" y="1453.75" font-family='"DejaVu Sans", Verdana, sans-serif' font-size="35.40" fill="#B91F22">T</text>
<text x="807.69" y="1453.75" font-family='"DejaVu Sans", Verdana, sans-serif' font-size="35.40" fill="#fff">T</text>
<text x="855.93" y="1453.75" font-family='"DejaVu Sans", Verdana, sans-serif' font-size="35.40" fill="#B91F22">T</text>
<text x="880.05" y="1453.75" font-family='"DejaVu Sans", Verdana, sans-serif' font-size="35.40" fill="#B91F22">T</text>
<text x="904.17" y="1453.75" font-family='"DejaVu Sans", Verdana, sans-serif' font-size="35.40" fill="#B91F22">T</text>
<text x="949.96" y="1453.75" font-family='"DejaVu Sans", Verdana, sans-serif' font-size="35.40" fill="#B91F22">G</text>
<text x="974.08" y="1453.75" font-family='"DejaVu Sans", Verdana, sans-serif' font-size="35.40" fill="#B91F22">G</text>
<text x="1000.65" y="1453.75" font-family='"DejaVu Sans", Verdana, sans-serif' font-size="35.40" fill="#fff">T</text>
<text x="1048.89" y="1453.75" font-family='"DejaVu Sans", Verdana, sans-serif' font-size="35.40" fill="#B91F22">T</text>
<text x="1071.43" y="1453.75" font-family='"DejaVu Sans", Verdana, sans-serif' font-size="35.40" fill="#B91F22">C</text>
<text x="1097.13" y="1453.75" font-family='"DejaVu Sans", Verdana, sans-serif' font-size="35.40" fill="#fff">T</text>
<text x="1144.08" y="1453.75" font-family='"DejaVu Sans", Verdana, sans-serif' font-size="35.40" fill="#B91F22">A</text>
<text x="1169.49" y="1453.75" font-family='"DejaVu Sans", Verdana, sans-serif' font-size="35.40" fill="#B91F22">T</text>
<text x="1193.61" y="1453.75" font-family='"DejaVu Sans", Verdana, sans-serif' font-size="35.40" fill="#fff">T</text>
<text x="1240.56" y="1453.75" font-family='"DejaVu Sans", Verdana, sans-serif' font-size="35.40" fill="#B91F22">A</text>
<text x="1264.68" y="1453.75" font-family='"DejaVu Sans", Verdana, sans-serif' font-size="35.40" fill="#B91F22">A</text>
<text x="1290.09" y="1453.75" font-family='"DejaVu Sans", Verdana, sans-serif' font-size="35.40" fill="#fff">T</text>
<text x="1335.88" y="1453.75" font-family='"DejaVu Sans", Verdana, sans-serif' font-size="35.40" fill="#B91F22">G</text>
<text x="1360.00" y="1453.75" font-family='"DejaVu Sans", Verdana, sans-serif' font-size="35.40" fill="#B91F22">G</text>
<text x="1386.57" y="1453.75" font-family='"DejaVu Sans", Verdana, sans-serif' font-size="35.40" fill="#B91F22">T</text>
<text x="1432.36" y="1453.75" font-family='"DejaVu Sans", Verdana, sans-serif' font-size="35.40" fill="#B91F22">G</text>
<text x="1458.93" y="1453.75" font-family='"DejaVu Sans", Verdana, sans-serif' font-size="35.40" fill="#B91F22">T</text>
<text x="1483.05" y="1453.75" font-family='"DejaVu Sans", Verdana, sans-serif' font-size="35.40" fill="#fff">T</text>
<text x="1528.84" y="1453.75" font-family='"DejaVu Sans", Verdana, sans-serif' font-size="35.40" fill="#B91F22">G</text>
<text x="1554.12" y="1453.75" font-family='"DejaVu Sans", Verdana, sans-serif' font-size="35.40" fill="#B91F22">A</text>
<text x="1579.53" y="1453.75" font-family='"DejaVu Sans", Verdana, sans-serif' font-size="35.40" fill="#fff">T</text>
<text x="204.22" y="1502.00" font-family='"DejaVu Sans", Verdana, sans-serif' font-size="40.15" textLength="48.68" lengthAdjust="spacingAndGlyphs" fill="#F77C00">v6</text>
<text x="275.76" y="1502.00" font-family='"DejaVu Sans", Verdana, sans-serif' font-size="35.40" fill="#F77C00">A</text>
<text x="299.59" y="1502.00" font-family='"DejaVu Sans", Verdana, sans-serif' font-size="35.40" fill="#F77C00">C</text>
<text x="324.00" y="1502.00" font-family='"DejaVu Sans", Verdana, sans-serif' font-size="35.40" fill="#F77C00">A</text>
<text x="371.95" y="1502.00" font-family='"DejaVu Sans", Verdana, sans-serif' font-size="35.40" fill="#F77C00">C</text>
<text x="396.36" y="1502.00" font-family='"DejaVu Sans", Verdana, sans-serif' font-size="35.40" fill="#F77C00">A</text>
<text x="421.77" y="1502.00" font-family='"DejaVu Sans", Verdana, sans-serif' font-size="35.40" fill="#F77C00">T</text>
<text x="467.56" y="1502.00" font-family='"DejaVu Sans", Verdana, sans-serif' font-size="35.40" fill="#F77C00">G</text>
<text x="492.84" y="1502.00" font-family='"DejaVu Sans", Verdana, sans-serif' font-size="35.40" fill="#F77C00">A</text>
<text x="515.80" y="1502.00" font-family='"DejaVu Sans", Verdana, sans-serif' font-size="35.40" fill="#F77C00">G</text>
<text x="566.49" y="1502.00" font-family='"DejaVu Sans", Verdana, sans-serif' font-size="35.40" fill="#F77C00">T</text>
<text x="590.61" y="1502.00" font-family='"DejaVu Sans", Verdana, sans-serif' font-size="35.40" fill="#F77C00">T</text>
<text x="613.44" y="1502.00" font-family='"DejaVu Sans", Verdana, sans-serif' font-size="35.40" fill="#F77C00">A</text>
<text x="661.39" y="1502.00" font-family='"DejaVu Sans", Verdana, sans-serif' font-size="35.40" fill="#F77C00">C</text>
<text x="685.80" y="1502.00" font-family='"DejaVu Sans", Verdana, sans-serif' font-size="35.40" fill="#F77C00">A</text>
<text x="709.63" y="1502.00" font-family='"DejaVu Sans", Verdana, sans-serif' font-size="35.40" fill="#F77C00">C</text>
<text x="758.16" y="1502.00" font-family='"DejaVu Sans", Verdana, sans-serif' font-size="35.40" fill="#F77C00">A</text>
<text x="783.57" y="1502.00" font-family='"DejaVu Sans", Verdana, sans-serif' font-size="35.40" fill="#F77C00">T</text>
<text x="806.11" y="1502.00" font-family='"DejaVu Sans", Verdana, sans-serif' font-size="35.40" fill="#F77C00">C</text>
<text x="855.93" y="1502.00" font-family='"DejaVu Sans", Verdana, sans-serif' font-size="35.40" fill="#F77C00">T</text>
<text x="880.05" y="1502.00" font-family='"DejaVu Sans", Verdana, sans-serif' font-size="35.40" fill="#F77C00">T</text>
<text x="904.17" y="1502.00" font-family='"DejaVu Sans", Verdana, sans-serif' font-size="35.40" fill="#F77C00">T</text>
<text x="949.96" y="1502.00" font-family='"DejaVu Sans", Verdana, sans-serif' font-size="35.40" fill="#F77C00">G</text>
<text x="974.08" y="1502.00" font-family='"DejaVu Sans", Verdana, sans-serif' font-size="35.40" fill="#F77C00">G</text>
<text x="999.07" y="1502.00" font-family='"DejaVu Sans", Verdana, sans-serif' font-size="35.40" fill="#F77C00">C</text>
<text x="1048.89" y="1502.00" font-family='"DejaVu Sans", Verdana, sans-serif' font-size="35.40" fill="#F77C00">T</text>
<text x="1071.43" y="1502.00" font-family='"DejaVu Sans", Verdana, sans-serif' font-size="35.40" fill="#F77C00">C</text>
<text x="1095.55" y="1502.00" font-family='"DejaVu Sans", Verdana, sans-serif' font-size="35.40" fill="#F77C00">C</text>
<text x="1144.08" y="1502.00" font-family='"DejaVu Sans", Verdana, sans-serif' font-size="35.40" fill="#F77C00">A</text>
<text x="1169.49" y="1502.00" font-family='"DejaVu Sans", Verdana, sans-serif' font-size="35.40" fill="#F77C00">T</text>
<text x="1192.03" y="1502.00" font-family='"DejaVu Sans", Verdana, sans-serif' font-size="35.40" fill="#F77C00">C</text>
<text x="1240.56" y="1502.00" font-family='"DejaVu Sans", Verdana, sans-serif' font-size="35.40" fill="#F77C00">A</text>
<text x="1264.68" y="1502.00" font-family='"DejaVu Sans", Verdana, sans-serif' font-size="35.40" fill="#F77C00">A</text>
<text x="1288.51" y="1502.00" font-family='"DejaVu Sans", Verdana, sans-serif' font-size="35.40" fill="#F77C00">C</text>
<text x="1335.88" y="1502.00" font-family='"DejaVu Sans", Verdana, sans-serif' font-size="35.40" fill="#F77C00">G</text>
<text x="1360.00" y="1502.00" font-family='"DejaVu Sans", Verdana, sans-serif' font-size="35.40" fill="#F77C00">G</text>
<text x="1386.57" y="1502.00" font-family='"DejaVu Sans", Verdana, sans-serif' font-size="35.40" fill="#F77C00">T</text>
<text x="1432.36" y="1502.00" font-family='"DejaVu Sans", Verdana, sans-serif' font-size="35.40" fill="#F77C00">G</text>
<text x="1458.93" y="1502.00" font-family='"DejaVu Sans", Verdana, sans-serif' font-size="35.40" fill="#F77C00">T</text>
<text x="1480.60" y="1502.00" font-family='"DejaVu Sans", Verdana, sans-serif' font-size="35.40" fill="#F77C00">G</text>
<text x="1528.84" y="1502.00" font-family='"DejaVu Sans", Verdana, sans-serif' font-size="35.40" fill="#F77C00">G</text>
<text x="1554.12" y="1502.00" font-family='"DejaVu Sans", Verdana, sans-serif' font-size="35.40" fill="#F77C00">A</text>
<text x="1577.95" y="1502.00" font-family='"DejaVu Sans", Verdana, sans-serif' font-size="35.40" fill="#F77C00">C</text>
<text x="10.50" y="1618.20" font-family='"Liberation Sans", Arial, sans-serif' font-size="65.70" font-weight="bold" textLength="65.72" lengthAdjust="spacingAndGlyphs" fill="#000">D.</text>
<text x="506.99" y="1589.10" font-family='"Liberation Sans", Arial, sans-serif' font-size="32.89" textLength="261.58" lengthAdjust="spacingAndGlyphs" fill="#000">mNG-vX-sfTq2</text>
<text x="769.59" y="1574.81" font-family='"Liberation Sans", Arial, sans-serif' font-size="19.90" textLength="25.47" lengthAdjust="spacingAndGlyphs" fill="#000">ox</text>
<rect x="341.80" y="1607.20" width="620.40" height="3.50" fill="#000"/>
<text x="239.22" y="1661.70" font-family='"Liberation Sans", Arial, sans-serif' font-size="40.02" textLength="80.99" lengthAdjust="spacingAndGlyphs" fill="#000">Void</text>
<text x="416.77" y="1661.70" font-family='"Liberation Sans", Arial, sans-serif' font-size="39.81" textLength="41.19" lengthAdjust="spacingAndGlyphs" fill="#000">v2</text>
<text x="631.37" y="1661.70" font-family='"Liberation Sans", Arial, sans-serif' font-size="40.41" textLength="41.59" lengthAdjust="spacingAndGlyphs" fill="#000">v4</text>
<text x="846.37" y="1662.70" font-family='"Liberation Sans", Arial, sans-serif' font-size="40.41" textLength="40.86" lengthAdjust="spacingAndGlyphs" fill="#000">v5</text>
<rect x="341.80" y="1674.20" width="190.00" height="5.70" fill="#36135F"/>
<rect x="556.80" y="1674.20" width="190.40" height="5.70" fill="#FB918A"/>
<rect x="771.80" y="1674.20" width="190.40" height="5.70" fill="#B91F22"/>
<text x="76.05" y="1718.00" font-family='"Liberation Sans", Arial, sans-serif' font-size="37.26" textLength="67.25" lengthAdjust="spacingAndGlyphs" fill="#000">kDa</text>
<text x="376.23" y="1720.20" font-family='"Liberation Sans", Arial, sans-serif' font-size="38.08" textLength="22.44" lengthAdjust="spacingAndGlyphs" fill="#000">1</text>
<text x="482.10" y="1720.20" font-family='"Liberation Sans", Arial, sans-serif' font-size="37.52" textLength="23.20" lengthAdjust="spacingAndGlyphs" fill="#000">2</text>
<text x="588.83" y="1720.20" font-family='"Liberation Sans", Arial, sans-serif' font-size="38.08" textLength="22.44" lengthAdjust="spacingAndGlyphs" fill="#000">1</text>
<text x="695.99" y="1720.20" font-family='"Liberation Sans", Arial, sans-serif' font-size="37.52" textLength="22.22" lengthAdjust="spacingAndGlyphs" fill="#000">2</text>
<text x="801.83" y="1720.20" font-family='"Liberation Sans", Arial, sans-serif' font-size="38.08" textLength="22.44" lengthAdjust="spacingAndGlyphs" fill="#000">1</text>
<text x="908.55" y="1720.20" font-family='"Liberation Sans", Arial, sans-serif' font-size="37.52" textLength="22.71" lengthAdjust="spacingAndGlyphs" fill="#000">2</text>
<text x="89.79" y="1809.81" font-family='"Liberation Sans", Arial, sans-serif' font-size="39.84" textLength="43.55" lengthAdjust="spacingAndGlyphs" fill="#000">75</text>
<text x="89.42" y="1901.41" font-family='"Liberation Sans", Arial, sans-serif' font-size="40.11" textLength="43.82" lengthAdjust="spacingAndGlyphs" fill="#000">50</text>
<text x="90.32" y="2044.72" font-family='"Liberation Sans", Arial, sans-serif' font-size="38.56" textLength="43.34" lengthAdjust="spacingAndGlyphs" fill="#000">37</text>
<defs>
<filter id="b15" x="-50%" y="-50%" width="200%" height="200%"><feGaussianBlur stdDeviation="1.6"/></filter>
<filter id="b2" x="-50%" y="-50%" width="200%" height="200%"><feGaussianBlur stdDeviation="2"/></filter>
<filter id="b4" x="-50%" y="-50%" width="200%" height="200%"><feGaussianBlur stdDeviation="4"/></filter>
<filter id="b8" x="-50%" y="-50%" width="200%" height="200%"><feGaussianBlur stdDeviation="8"/></filter>
<filter id="b14" x="-50%" y="-50%" width="200%" height="200%"><feGaussianBlur stdDeviation="14"/></filter>
<clipPath id="blotclip"><rect x="143" y="1731" width="835" height="319"/></clipPath>
</defs>
<g clip-path="url(#blotclip)">
<rect x="143.00" y="1731.00" width="835.00" height="319.00" fill="#DEDEDE"/>
<rect x="151.00" y="1725.00" width="68.00" height="331.00" fill="#E4E4E4" filter="url(#b2)"/>
<path d="M158,1780.5 C172,1780.5 184,1784.0 198,1784.5 C210,1784.5 216,1782.5 221,1784.0 Q225,1785.0 225,1795.0 Q225,1806.0 219,1806.5 C208,1807.0 200,1806.0 190,1805.0 C178,1803.5 168,1800.0 160,1798.5 Q155,1797.0 155,1789.0 Q155,1780.5 158,1780.5 Z" fill="#131313" filter="url(#b15)"/>
<path d="M158,1873.0 C172,1873.0 184,1876.5 198,1877.0 C210,1877.0 216,1875.0 221,1876.5 Q225,1877.5 225,1887.5 Q225,1898.5 219,1899.0 C208,1899.5 200,1898.5 190,1897.5 C178,1896.0 168,1892.5 160,1891.0 Q155,1889.5 155,1881.5 Q155,1873.0 158,1873.0 Z" fill="#131313" filter="url(#b15)"/>
<path d="M160,2009 C175,2012 195,2020 222,2022 L223,2043 C200,2045 175,2041 160,2030 Z" fill="#8E8E8E" filter="url(#b4)"/>
<ellipse cx="207" cy="2033" rx="14" ry="9" fill="#7C7C7C" filter="url(#b4)"/>
<ellipse cx="394.0" cy="1841" rx="42" ry="16" fill="#C5C5C5" filter="url(#b8)"/>
<ellipse cx="505.0" cy="1839.6" rx="36" ry="13" fill="#CCCCCC" filter="url(#b8)"/>
<ellipse cx="602.0" cy="1838" rx="40" ry="15" fill="#C4C4C4" filter="url(#b8)"/>
<ellipse cx="710.0" cy="1838" rx="40" ry="19" fill="#B9B9B9" filter="url(#b8)"/>
<ellipse cx="815" cy="1830" rx="62" ry="55" fill="#C4C4C4" filter="url(#b14)"/>
<rect x="775" y="1850" width="80" height="180" fill="#D2D2D2" filter="url(#b14)"/>
<ellipse cx="921" cy="1830" rx="62" ry="55" fill="#C4C4C4" filter="url(#b14)"/>
<rect x="881" y="1850" width="80" height="180" fill="#D2D2D2" filter="url(#b14)"/>
<ellipse cx="819" cy="2000" rx="38" ry="14" fill="#A8A8A8" filter="url(#b8)"/>
<ellipse cx="925" cy="1997" rx="36" ry="12" fill="#A6A6A6" filter="url(#b8)"/>
<path d="M864.5,1834.8 L864.4,1837.8 L864.1,1839.7 L863.7,1841.5 L863.1,1843.0 L862.3,1844.4 L861.3,1845.7 L860.1,1847.0 L858.8,1848.1 L857.3,1849.2 L855.6,1850.2 L853.8,1851.1 L851.8,1851.9 L849.6,1852.7 L847.2,1853.3 L844.6,1853.9 L841.9,1854.5 L838.9,1854.9 L835.7,1855.3 L832.3,1855.6 L828.5,1855.9 L824.3,1856.0 L819.1,1856.1 L810.9,1856.1 L805.7,1856.0 L801.5,1855.9 L797.7,1855.6 L794.3,1855.3 L791.1,1854.9 L788.1,1854.5 L785.4,1853.9 L782.8,1853.3 L780.4,1852.7 L778.2,1851.9 L776.2,1851.1 L774.4,1850.2 L772.7,1849.2 L771.2,1848.1 L769.9,1847.0 L768.7,1845.7 L767.7,1844.4 L766.9,1843.0 L766.3,1841.5 L765.9,1839.7 L765.6,1837.8 L765.5,1834.8 L765.6,1831.8 L765.9,1829.9 L766.3,1828.1 L766.9,1826.6 L767.7,1825.2 L768.7,1823.9 L769.9,1822.6 L771.2,1821.5 L772.7,1820.4 L774.4,1819.4 L776.2,1818.5 L778.2,1817.7 L780.4,1816.9 L782.8,1816.3 L785.4,1815.7 L788.1,1815.1 L791.1,1814.7 L794.3,1814.3 L797.7,1814.0 L801.5,1813.7 L805.7,1813.6 L810.9,1813.5 L819.1,1813.5 L824.3,1813.6 L828.5,1813.7 L832.3,1814.0 L835.7,1814.3 L838.9,1814.7 L841.9,1815.1 L844.6,1815.7 L847.2,1816.3 L849.6,1816.9 L851.8,1817.7 L853.8,1818.5 L855.6,1819.4 L857.3,1820.4 L858.8,1821.5 L860.1,1822.6 L861.3,1823.9 L862.3,1825.2 L863.1,1826.6 L863.7,1828.1 L864.1,1829.9 L864.4,1831.8 Z" fill="#000" filter="url(#b15)"/>
<path d="M970.3,1830.5 L970.2,1833.6 L969.9,1835.6 L969.5,1837.4 L968.9,1839.0 L968.1,1840.5 L967.1,1841.9 L966.0,1843.2 L964.7,1844.4 L963.2,1845.5 L961.5,1846.5 L959.7,1847.5 L957.7,1848.4 L955.5,1849.2 L953.2,1850.0 L950.6,1850.7 L947.9,1851.3 L945.0,1851.8 L941.8,1852.3 L938.4,1852.7 L934.7,1853.0 L930.5,1853.2 L925.4,1853.4 L917.2,1853.6 L912.1,1853.6 L907.9,1853.5 L904.2,1853.4 L900.8,1853.1 L897.6,1852.8 L894.7,1852.4 L892.0,1851.9 L889.4,1851.3 L887.1,1850.6 L884.9,1849.9 L882.9,1849.1 L881.1,1848.2 L879.4,1847.2 L877.9,1846.1 L876.6,1845.0 L875.5,1843.7 L874.5,1842.4 L873.7,1840.9 L873.1,1839.4 L872.7,1837.6 L872.4,1835.6 L872.3,1832.5 L872.4,1829.4 L872.7,1827.4 L873.1,1825.6 L873.7,1824.0 L874.5,1822.5 L875.5,1821.1 L876.6,1819.8 L877.9,1818.6 L879.4,1817.5 L881.1,1816.5 L882.9,1815.5 L884.9,1814.6 L887.1,1813.8 L889.4,1813.0 L892.0,1812.3 L894.7,1811.7 L897.6,1811.2 L900.8,1810.7 L904.2,1810.3 L907.9,1810.0 L912.1,1809.8 L917.2,1809.6 L925.4,1809.4 L930.5,1809.4 L934.7,1809.5 L938.4,1809.6 L941.8,1809.9 L945.0,1810.2 L947.9,1810.6 L950.6,1811.1 L953.2,1811.7 L955.5,1812.4 L957.7,1813.1 L959.7,1813.9 L961.5,1814.8 L963.2,1815.8 L964.7,1816.9 L966.0,1818.0 L967.1,1819.3 L968.1,1820.6 L968.9,1822.1 L969.5,1823.6 L969.9,1825.4 L970.2,1827.4 Z" fill="#000" filter="url(#b15)"/>
<ellipse cx="932.8" cy="1819.5" rx="5.5" ry="10" fill="#808080" transform="rotate(-15 932.8 1819.5)" filter="url(#b15)"/>
</g>
<rect x="143.2" y="1731.1" width="834.8" height="318.8" fill="none" stroke="#000" stroke-width="3.6"/>
<rect x="995.00" y="1825.10" width="48.00" height="4.20" fill="#000"/>
<path d="M986.6,1827.2 L1009.6,1815.6000000000001 L1003.5,1827.2 L1009.6,1838.8 Z" fill="#000"/>
<rect x="995.00" y="1998.60" width="48.00" height="4.20" fill="#000"/>
<path d="M986.6,2000.7 L1009.6,1989.1000000000001 L1003.5,2000.7 L1009.6,2012.3 Z" fill="#000"/>
<text x="1052.60" y="1841.00" font-family='"Liberation Sans", Arial, sans-serif' font-size="40.12" textLength="21.93" lengthAdjust="spacingAndGlyphs" fill="#000">1</text>
<text x="1053.72" y="2013.60" font-family='"Liberation Sans", Arial, sans-serif' font-size="40.39" textLength="20.75" lengthAdjust="spacingAndGlyphs" fill="#000">2</text>
<text x="1096.80" y="1616.90" font-family='"Liberation Sans", Arial, sans-serif' font-size="62.21" font-weight="bold" textLength="55.12" lengthAdjust="spacingAndGlyphs" fill="#000">E.</text>
<text x="1270.04" y="1615.50" font-family='"Liberation Sans", Arial, sans-serif' font-size="51.13" textLength="118.11" lengthAdjust="spacingAndGlyphs" fill="#000">qPCR</text>
<text x="1402.65" y="1615.50" font-family='"Liberation Sans", Arial, sans-serif' font-size="49.67" font-style="italic" textLength="99.70" lengthAdjust="spacingAndGlyphs" fill="#000">mng</text>
<text x="1515.05" y="1615.50" font-family='"Liberation Sans", Arial, sans-serif' font-size="52.03" textLength="253.79" lengthAdjust="spacingAndGlyphs" fill="#000">normalized</text>
<text x="1782.68" y="1615.50" font-family='"Liberation Sans", Arial, sans-serif' font-size="52.03" textLength="93.33" lengthAdjust="spacingAndGlyphs" fill="#000">with</text>
<text x="1891.58" y="1615.50" font-family='"Liberation Sans", Arial, sans-serif' font-size="52.03" font-style="italic" textLength="98.92" lengthAdjust="spacingAndGlyphs" fill="#000">ldnT</text>
<rect x="1278.30" y="1665.40" width="6.80" height="346.00" fill="#000"/>
<rect x="1270.30" y="1665.40" width="14.80" height="5.50" fill="#000"/>
<rect x="1270.30" y="1836.70" width="14.80" height="5.60" fill="#000"/>
<rect x="1270.30" y="2005.00" width="711.60" height="6.40" fill="#000"/>
<rect x="1417.60" y="2010.00" width="6.40" height="12.60" fill="#000"/>
<rect x="1626.90" y="2010.00" width="6.40" height="12.60" fill="#000"/>
<rect x="1836.60" y="2010.00" width="6.40" height="12.60" fill="#000"/>
<circle cx="1295.40" cy="1668.3" r="2.3" fill="#000"/>
<circle cx="1308.82" cy="1668.3" r="2.3" fill="#000"/>
<circle cx="1322.24" cy="1668.3" r="2.3" fill="#000"/>
<circle cx="1335.66" cy="1668.3" r="2.3" fill="#000"/>
<circle cx="1349.08" cy="1668.3" r="2.3" fill="#000"/>
<circle cx="1362.50" cy="1668.3" r="2.3" fill="#000"/>
<circle cx="1375.92" cy="1668.3" r="2.3" fill="#000"/>
<circle cx="1389.34" cy="1668.3" r="2.3" fill="#000"/>
<circle cx="1402.76" cy="1668.3" r="2.3" fill="#000"/>
<circle cx="1416.18" cy="1668.3" r="2.3" fill="#000"/>
<circle cx="1429.60" cy="1668.3" r="2.3" fill="#000"/>
<circle cx="1443.02" cy="1668.3" r="2.3" fill="#000"/>
<circle cx="1456.44" cy="1668.3" r="2.3" fill="#000"/>
<circle cx="1469.86" cy="1668.3" r="2.3" fill="#000"/>
<circle cx="1483.28" cy="1668.3" r="2.3" fill="#000"/>
<circle cx="1496.70" cy="1668.3" r="2.3" fill="#000"/>
<circle cx="1510.12" cy="1668.3" r="2.3" fill="#000"/>
<circle cx="1523.54" cy="1668.3" r="2.3" fill="#000"/>
<circle cx="1536.96" cy="1668.3" r="2.3" fill="#000"/>
<circle cx="1550.38" cy="1668.3" r="2.3" fill="#000"/>
<circle cx="1563.80" cy="1668.3" r="2.3" fill="#000"/>
<circle cx="1577.22" cy="1668.3" r="2.3" fill="#000"/>
<circle cx="1590.64" cy="1668.3" r="2.3" fill="#000"/>
<circle cx="1604.06" cy="1668.3" r="2.3" fill="#000"/>
<circle cx="1617.48" cy="1668.3" r="2.3" fill="#000"/>
<circle cx="1630.90" cy="1668.3" r="2.3" fill="#000"/>
<circle cx="1644.32" cy="1668.3" r="2.3" fill="#000"/>
<circle cx="1657.74" cy="1668.3" r="2.3" fill="#000"/>
<circle cx="1671.16" cy="1668.3" r="2.3" fill="#000"/>
<circle cx="1684.58" cy="1668.3" r="2.3" fill="#000"/>
<circle cx="1698.00" cy="1668.3" r="2.3" fill="#000"/>
<circle cx="1711.42" cy="1668.3" r="2.3" fill="#000"/>
<circle cx="1724.84" cy="1668.3" r="2.3" fill="#000"/>
<circle cx="1738.26" cy="1668.3" r="2.3" fill="#000"/>
<circle cx="1751.68" cy="1668.3" r="2.3" fill="#000"/>
<circle cx="1765.10" cy="1668.3" r="2.3" fill="#000"/>
<circle cx="1778.52" cy="1668.3" r="2.3" fill="#000"/>
<circle cx="1791.94" cy="1668.3" r="2.3" fill="#000"/>
<circle cx="1805.36" cy="1668.3" r="2.3" fill="#000"/>
<circle cx="1818.78" cy="1668.3" r="2.3" fill="#000"/>
<circle cx="1832.20" cy="1668.3" r="2.3" fill="#000"/>
<circle cx="1845.62" cy="1668.3" r="2.3" fill="#000"/>
<circle cx="1859.04" cy="1668.3" r="2.3" fill="#000"/>
<circle cx="1872.46" cy="1668.3" r="2.3" fill="#000"/>
<circle cx="1885.88" cy="1668.3" r="2.3" fill="#000"/>
<circle cx="1899.30" cy="1668.3" r="2.3" fill="#000"/>
<circle cx="1912.72" cy="1668.3" r="2.3" fill="#000"/>
<circle cx="1926.14" cy="1668.3" r="2.3" fill="#000"/>
<circle cx="1939.56" cy="1668.3" r="2.3" fill="#000"/>
<circle cx="1952.98" cy="1668.3" r="2.3" fill="#000"/>
<circle cx="1966.40" cy="1668.3" r="2.3" fill="#000"/>
<text x="1245.90" y="1680.77" font-family='"Liberation Sans", Arial, sans-serif' font-size="33.90" textLength="21.29" lengthAdjust="spacingAndGlyphs" fill="#000">0</text>
<text x="1233.22" y="1852.23" font-family='"Liberation Sans", Arial, sans-serif' font-size="37.69" textLength="33.67" lengthAdjust="spacingAndGlyphs" fill="#000">-5</text>
<text x="1211.38" y="2023.68" font-family='"Liberation Sans", Arial, sans-serif' font-size="33.05" textLength="55.83" lengthAdjust="spacingAndGlyphs" fill="#000">-10</text>
<g transform="translate(1188,0) rotate(-90)">
<text x="-1866.41" y="0.00" font-family='"Liberation Sans", Arial, sans-serif' font-size="50.70" textLength="88.02" lengthAdjust="spacingAndGlyphs" fill="#000">ΔCT</text>
</g>
<text x="1395.74" y="2075.60" font-family='"Liberation Sans", Arial, sans-serif' font-size="50.99" textLength="50.89" lengthAdjust="spacingAndGlyphs" fill="#000">v2</text>
<text x="1604.84" y="2075.60" font-family='"Liberation Sans", Arial, sans-serif' font-size="51.75" textLength="49.95" lengthAdjust="spacingAndGlyphs" fill="#000">v5</text>
<text x="1813.74" y="2075.60" font-family='"Liberation Sans", Arial, sans-serif' font-size="50.99" textLength="50.88" lengthAdjust="spacingAndGlyphs" fill="#000">v6</text>
<rect x="1350.90" y="1859.80" width="139.50" height="4.60" fill="#000"/>
<rect x="1386.20" y="1854.10" width="67.60" height="4.60" fill="#000"/>
<rect x="1386.20" y="1865.50" width="67.60" height="4.60" fill="#000"/>
<rect x="1417.70" y="1856.40" width="4.60" height="11.40" fill="#000"/>
<rect x="1386.20" y="1856.40" width="67.60" height="11.40" fill="#000"/>
<circle cx="1389.4" cy="1866.9" r="9.2" fill="#36135F"/>
<circle cx="1421.0" cy="1858.9" r="9.2" fill="#36135F"/>
<circle cx="1451.8" cy="1860.5" r="9.2" fill="#36135F"/>
<rect x="1560.40" y="1863.00" width="139.20" height="4.60" fill="#000"/>
<rect x="1595.50" y="1856.90" width="66.90" height="4.60" fill="#000"/>
<rect x="1595.50" y="1868.40" width="66.90" height="4.60" fill="#000"/>
<rect x="1626.65" y="1859.20" width="4.60" height="11.50" fill="#000"/>
<circle cx="1598.7" cy="1870.1" r="9.2" fill="#B91F22"/>
<circle cx="1629.6" cy="1859.6" r="9.2" fill="#B91F22"/>
<circle cx="1660.8" cy="1866.2" r="9.2" fill="#B91F22"/>
<rect x="1769.70" y="1856.60" width="138.80" height="4.60" fill="#000"/>
<rect x="1804.70" y="1844.80" width="68.80" height="4.60" fill="#000"/>
<rect x="1804.70" y="1869.00" width="68.80" height="4.60" fill="#000"/>
<rect x="1836.80" y="1847.10" width="4.60" height="24.20" fill="#000"/>
<circle cx="1823.2" cy="1847.8" r="9.2" fill="#F98000"/>
<circle cx="1855.0" cy="1858.0" r="9.2" fill="#F98000"/>
<circle cx="1823.2" cy="1871.7" r="9.2" fill="#F98000"/>
</svg>
</body></html>
